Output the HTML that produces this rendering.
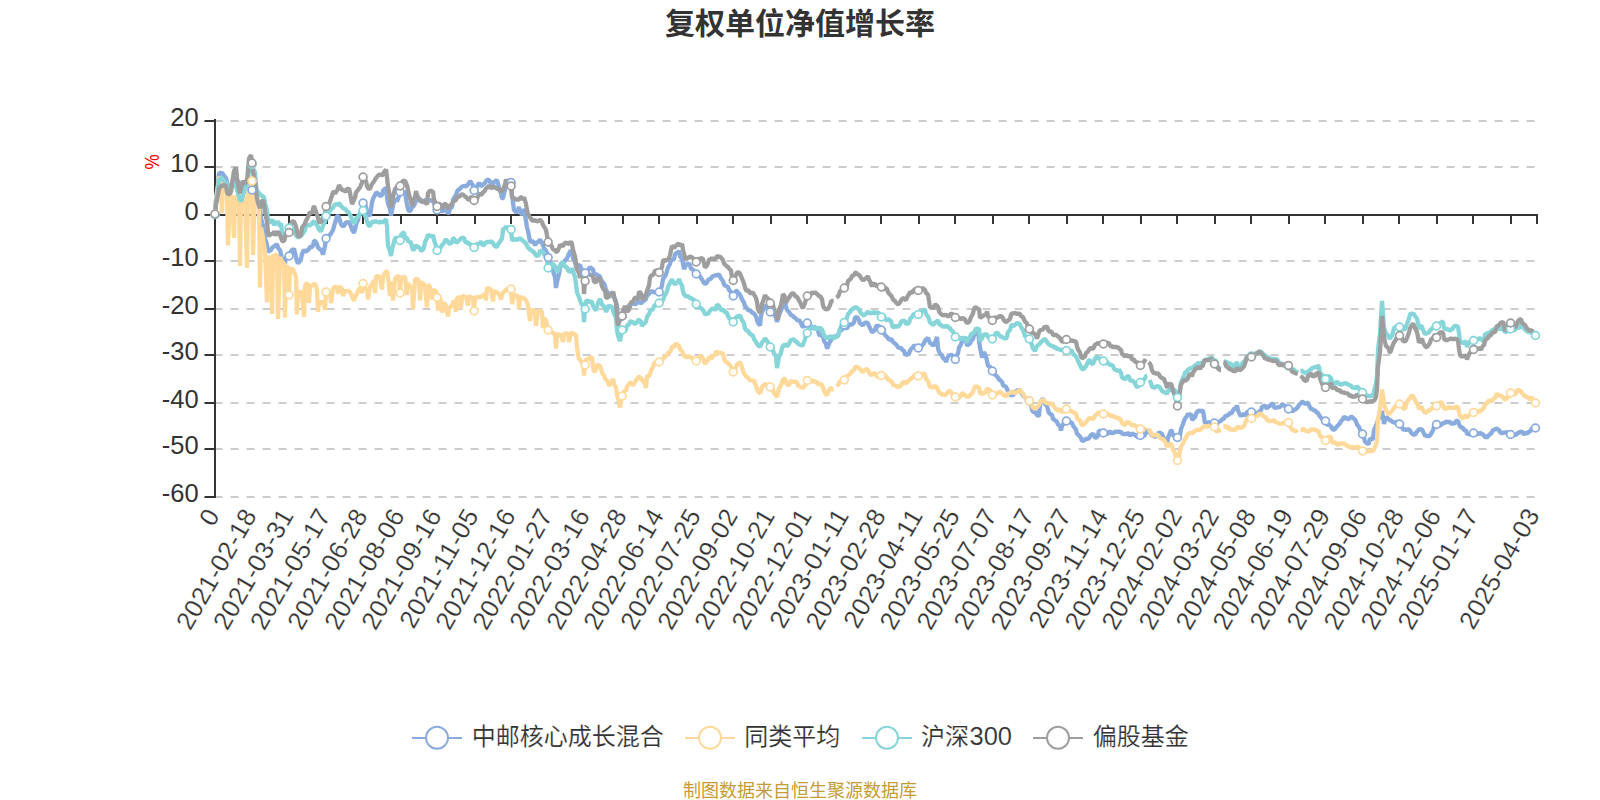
<!DOCTYPE html>
<html lang="zh-CN"><head><meta charset="utf-8"><title>复权单位净值增长率</title>
<style>html,body{margin:0;padding:0;background:#fff}body{width:1600px;height:800px;overflow:hidden}svg{display:block}text{font-family:'Liberation Sans','Noto Sans CJK SC',sans-serif}</style></head><body>
<svg width="1600" height="800" viewBox="0 0 1600 800">
<rect width="1600" height="800" fill="#fff"/>
<text x="800" y="34" text-anchor="middle" font-size="30" font-weight="bold" fill="#333">复权单位净值增长率</text>
<g stroke="#ccc" stroke-width="2" stroke-dasharray="8 8" fill="none">
<path d="M214.5 121H1537"/>
<path d="M214.5 167H1537"/>
<path d="M214.5 261H1537"/>
<path d="M214.5 309H1537"/>
<path d="M214.5 355H1537"/>
<path d="M214.5 403H1537"/>
<path d="M214.5 449H1537"/>
<path d="M214.5 497H1537"/>
</g>
<g stroke="#333" stroke-width="2" fill="none">
<path d="M215 119V498"/>
<path d="M204.5 121H215"/>
<path d="M204.5 167H215"/>
<path d="M204.5 215H215"/>
<path d="M204.5 261H215"/>
<path d="M204.5 309H215"/>
<path d="M204.5 355H215"/>
<path d="M204.5 403H215"/>
<path d="M204.5 449H215"/>
<path d="M204.5 497H215"/>
<path d="M214 215H1538"/>
<path d="M215 215V224"/>
<path d="M253 215V224"/>
<path d="M289 215V224"/>
<path d="M327 215V224"/>
<path d="M363 215V224"/>
<path d="M401 215V224"/>
<path d="M437 215V224"/>
<path d="M475 215V224"/>
<path d="M511 215V224"/>
<path d="M549 215V224"/>
<path d="M585 215V224"/>
<path d="M623 215V224"/>
<path d="M659 215V224"/>
<path d="M697 215V224"/>
<path d="M733 215V224"/>
<path d="M771 215V224"/>
<path d="M807 215V224"/>
<path d="M845 215V224"/>
<path d="M881 215V224"/>
<path d="M919 215V224"/>
<path d="M955 215V224"/>
<path d="M993 215V224"/>
<path d="M1029 215V224"/>
<path d="M1067 215V224"/>
<path d="M1103 215V224"/>
<path d="M1141 215V224"/>
<path d="M1177 215V224"/>
<path d="M1215 215V224"/>
<path d="M1251 215V224"/>
<path d="M1289 215V224"/>
<path d="M1325 215V224"/>
<path d="M1363 215V224"/>
<path d="M1399 215V224"/>
<path d="M1437 215V224"/>
<path d="M1473 215V224"/>
<path d="M1511 215V224"/>
<path d="M1537 215V224"/>
</g>
<g font-size="25.5" fill="#333" text-anchor="end">
<text x="198.6" y="125.6">20</text>
<text x="198.6" y="171.6">10</text>
<text x="198.6" y="219.6">0</text>
<text x="198.6" y="265.6">-10</text>
<text x="198.6" y="313.6">-20</text>
<text x="198.6" y="359.6">-30</text>
<text x="198.6" y="407.6">-40</text>
<text x="198.6" y="453.6">-50</text>
<text x="198.6" y="501.6">-60</text>
</g>
<text transform="translate(159.3 162) rotate(-90) scale(1.07 1.31)" font-size="16" fill="#f00" text-anchor="middle">%</text>
<g font-size="25.5" fill="#333" text-anchor="end" letter-spacing="0.4" stroke="#fff" stroke-width="0.2">
<text transform="translate(213.2 510.9) rotate(-60)" y="8.5">0</text>
<text transform="translate(250.2 510.9) rotate(-60)" y="8.5">2021-02-18</text>
<text transform="translate(287.2 510.9) rotate(-60)" y="8.5">2021-03-31</text>
<text transform="translate(324.2 510.9) rotate(-60)" y="8.5">2021-05-17</text>
<text transform="translate(361.3 510.9) rotate(-60)" y="8.5">2021-06-28</text>
<text transform="translate(398.3 510.9) rotate(-60)" y="8.5">2021-08-06</text>
<text transform="translate(435.3 510.9) rotate(-60)" y="8.5">2021-09-16</text>
<text transform="translate(472.3 510.9) rotate(-60)" y="8.5">2021-11-05</text>
<text transform="translate(509.3 510.9) rotate(-60)" y="8.5">2021-12-16</text>
<text transform="translate(546.3000000000001 510.9) rotate(-60)" y="8.5">2022-01-27</text>
<text transform="translate(583.4000000000001 510.9) rotate(-60)" y="8.5">2022-03-16</text>
<text transform="translate(620.4000000000001 510.9) rotate(-60)" y="8.5">2022-04-28</text>
<text transform="translate(657.4000000000001 510.9) rotate(-60)" y="8.5">2022-06-14</text>
<text transform="translate(694.4000000000001 510.9) rotate(-60)" y="8.5">2022-07-25</text>
<text transform="translate(731.4000000000001 510.9) rotate(-60)" y="8.5">2022-09-02</text>
<text transform="translate(768.4000000000001 510.9) rotate(-60)" y="8.5">2022-10-21</text>
<text transform="translate(805.5 510.9) rotate(-60)" y="8.5">2022-12-01</text>
<text transform="translate(842.5 510.9) rotate(-60)" y="8.5">2023-01-11</text>
<text transform="translate(879.5 510.9) rotate(-60)" y="8.5">2023-02-28</text>
<text transform="translate(916.5 510.9) rotate(-60)" y="8.5">2023-04-11</text>
<text transform="translate(953.5 510.9) rotate(-60)" y="8.5">2023-05-25</text>
<text transform="translate(990.5 510.9) rotate(-60)" y="8.5">2023-07-07</text>
<text transform="translate(1027.6000000000001 510.9) rotate(-60)" y="8.5">2023-08-17</text>
<text transform="translate(1064.6000000000001 510.9) rotate(-60)" y="8.5">2023-09-27</text>
<text transform="translate(1101.6000000000001 510.9) rotate(-60)" y="8.5">2023-11-14</text>
<text transform="translate(1138.6000000000001 510.9) rotate(-60)" y="8.5">2023-12-25</text>
<text transform="translate(1175.6000000000001 510.9) rotate(-60)" y="8.5">2024-02-02</text>
<text transform="translate(1212.6000000000001 510.9) rotate(-60)" y="8.5">2024-03-22</text>
<text transform="translate(1249.6000000000001 510.9) rotate(-60)" y="8.5">2024-05-08</text>
<text transform="translate(1286.7 510.9) rotate(-60)" y="8.5">2024-06-19</text>
<text transform="translate(1323.7 510.9) rotate(-60)" y="8.5">2024-07-29</text>
<text transform="translate(1360.7 510.9) rotate(-60)" y="8.5">2024-09-06</text>
<text transform="translate(1397.7 510.9) rotate(-60)" y="8.5">2024-10-28</text>
<text transform="translate(1434.7 510.9) rotate(-60)" y="8.5">2024-12-06</text>
<text transform="translate(1471.7 510.9) rotate(-60)" y="8.5">2025-01-17</text>
<text transform="translate(1533.2 510.3) rotate(-60)" y="8.5">2025-04-03</text>
</g>
<g fill="none" stroke="#8aabde" stroke-width="4.3" stroke-linejoin="bevel" stroke-linecap="butt">
<path d="M215.0 214.5 L216.0 199.5 L218.0 183.5 L219.0 173.5 L220.0 173.0 L222.0 173.0 L223.0 174.0 L224.0 176.0 L226.0 178.0 L227.0 182.0 L228.0 186.5 L230.0 188.5 L231.0 189.5 L232.0 184.0 L234.0 178.0 L235.0 175.0 L236.0 172.0 L237.0 180.0 L239.0 183.0 L240.0 187.0 L241.0 192.0 L243.0 189.0 L244.0 186.0 L245.0 183.0 L247.0 179.5 L248.0 182.5 L249.0 185.5 L251.0 187.5 L252.0 190.0 L253.0 192.5 L255.0 195.0 L256.0 197.5 L257.0 200.0 L259.0 205.0 L260.0 211.0 L261.0 218.0 L263.0 225.5 L264.0 231.5 L265.0 238.5 L267.0 245.0 L268.0 252.0 L269.0 251.0 L271.0 250.0 L272.0 248.0 L273.0 247.0 L274.0 246.5 L276.0 245.0 L277.0 244.0 L278.0 248.0 L280.0 250.0 L281.0 254.5 L282.0 259.0 L284.0 261.0 L285.0 263.5 L286.0 257.5 L288.0 256.5 L289.0 256.0 L290.0 253.0 L292.0 250.0 L293.0 250.0 L294.0 248.5 L296.0 257.5 L297.0 260.5 L298.0 263.5 L300.0 261.0 L301.0 259.0 L302.0 254.0 L304.0 250.0 L305.0 251.0 L306.0 251.5 L308.0 250.0 L309.0 249.0 L310.0 247.0 L312.0 247.0 L313.0 245.5 L314.0 241.0 L315.0 241.0 L317.0 244.0 L318.0 247.5 L319.0 248.5 L321.0 250.0 L322.0 251.5 L323.0 254.5 L325.0 246.0 L326.0 238.5 L327.0 237.5 L329.0 235.5 L330.0 235.0 L331.0 233.5 L333.0 230.0 L334.0 226.5 L335.0 223.0 L337.0 216.5 L338.0 216.0 L339.0 217.5 L341.0 224.0 L342.0 225.5 L343.0 226.5 L345.0 224.5 L346.0 222.0 L347.0 222.5 L349.0 222.0 L350.0 224.0 L351.0 226.5 L352.0 229.5 L354.0 233.0 L355.0 229.5 L356.0 224.5 L358.0 220.0 L359.0 216.0 L360.0 214.0 L362.0 212.0 L363.0 203.0 L364.0 203.0 L366.0 207.0 L367.0 211.0 L368.0 214.0 L370.0 216.0 L371.0 209.5 L372.0 202.0 L374.0 196.5 L375.0 195.5 L376.0 192.5 L378.0 193.5 L379.0 194.5 L380.0 196.0 L382.0 195.0 L383.0 191.0 L384.0 189.5 L386.0 188.0 L387.0 197.5 L388.0 203.5 L390.0 209.0 L391.0 215.5 L392.0 210.5 L393.0 205.0 L395.0 200.0 L396.0 199.0 L397.0 201.5 L399.0 196.0 L400.0 192.0 L401.0 193.0 L403.0 192.5 L404.0 191.5 L405.0 192.5 L407.0 204.5 L408.0 209.0 L409.0 211.5 L411.0 210.0 L412.0 206.5 L413.0 207.0 L415.0 203.5 L416.0 199.5 L417.0 199.5 L419.0 200.5 L420.0 199.5 L421.0 200.0 L423.0 202.0 L424.0 202.0 L425.0 200.5 L427.0 199.5 L428.0 201.5 L429.0 199.5 L430.0 200.5 L432.0 201.0 L433.0 199.0 L434.0 203.5 L436.0 206.5 L437.0 210.0 L438.0 210.0 L440.0 209.5 L441.0 210.5 L442.0 212.0 L444.0 209.5 L445.0 207.5 L446.0 210.0 L448.0 213.5 L449.0 212.5 L450.0 208.5 L452.0 207.0 L453.0 200.0 L454.0 198.0 L456.0 195.0 L457.0 192.0 L458.0 190.0 L460.0 189.0 L461.0 187.5 L462.0 186.5 L464.0 186.0 L465.0 186.0 L466.0 186.5 L468.0 184.5 L469.0 183.0 L470.0 181.0 L471.0 182.5 L473.0 185.5 L474.0 190.5 L475.0 188.0 L477.0 187.0 L478.0 184.5 L479.0 183.0 L481.0 186.0 L482.0 185.5 L483.0 184.5 L485.0 183.0 L486.0 181.0 L487.0 180.0 L489.0 180.0 L490.0 181.5 L491.0 184.5 L493.0 183.5 L494.0 182.0 L495.0 181.5 L497.0 180.0 L498.0 183.5 L499.0 187.5 L501.0 193.5 L502.0 198.5 L503.0 198.0 L505.0 189.5 L506.0 186.5 L507.0 181.0 L508.0 181.0 L510.0 181.0 L511.0 182.5 L512.0 194.5 L514.0 210.5 L515.0 210.5 L516.0 213.0 L518.0 209.5 L519.0 207.0 L520.0 211.0 L522.0 215.0 L523.0 210.5 L524.0 210.5 L526.0 220.5 L527.0 227.5 L528.0 231.0 L530.0 241.5 L531.0 241.5 L532.0 241.0 L534.0 242.5 L535.0 245.5 L536.0 243.0 L538.0 242.0 L539.0 241.0 L540.0 239.5 L542.0 243.0 L543.0 245.0 L544.0 248.5 L546.0 250.5 L547.0 253.0 L548.0 257.5 L549.0 261.5 L551.0 264.0 L552.0 267.0 L553.0 271.0 L555.0 277.0 L556.0 288.0 L557.0 282.0 L559.0 274.0 L560.0 267.5 L561.0 265.5 L563.0 263.0 L564.0 262.0 L565.0 260.5 L567.0 258.5 L568.0 256.0 L569.0 253.5 L571.0 250.5 L572.0 252.5 L573.0 258.5 L575.0 262.0 L576.0 266.0 L577.0 268.0 L579.0 265.5 L580.0 265.0 L581.0 268.0 L583.0 270.5 L584.0 273.5 L585.0 273.0 L586.0 272.5 L588.0 270.0 L589.0 269.0 L590.0 267.0 L592.0 269.0 L593.0 269.0 L594.0 274.5 L596.0 274.0 L597.0 275.0 L598.0 275.5 L600.0 276.5 L601.0 280.0 L602.0 281.0 L604.0 283.5 L605.0 286.0 L606.0 290.0 L608.0 293.0 L609.0 295.5 L610.0 296.0 L612.0 295.0 L613.0 291.5 L614.0 296.5 L616.0 302.0 L617.0 307.5 L618.0 318.0 L620.0 320.0 L621.0 318.5 L622.0 316.0 L623.0 314.5 L625.0 311.0 L626.0 308.0 L627.0 307.5 L629.0 305.5 L630.0 304.5 L631.0 304.0 L633.0 303.0 L634.0 303.5 L635.0 304.5 L637.0 303.0 L638.0 301.0 L639.0 302.0 L641.0 303.0 L642.0 302.5 L643.0 301.0 L645.0 300.0 L646.0 299.0 L647.0 295.5 L649.0 294.0 L650.0 292.0 L651.0 291.5 L653.0 291.5 L654.0 293.0 L655.0 292.0 L657.0 292.5 L658.0 292.0 L659.0 292.0 L661.0 289.0 L662.0 285.5 L663.0 279.0 L664.0 277.5 L666.0 274.5 L667.0 271.0 L668.0 267.5 L670.0 264.0 L671.0 260.0 L672.0 260.0 L674.0 259.0 L675.0 254.5 L676.0 253.0 L678.0 252.5 L679.0 250.5 L680.0 256.5 L682.0 258.5 L683.0 263.5 L684.0 269.0 L686.0 265.0 L687.0 264.0 L688.0 263.5 L690.0 265.0 L691.0 269.0 L692.0 269.0 L694.0 271.0 L695.0 272.5 L696.0 274.0 L698.0 274.5 L699.0 275.5 L700.0 276.5 L701.0 278.0 L703.0 281.0 L704.0 283.0 L705.0 284.0 L707.0 282.5 L708.0 280.0 L709.0 279.5 L711.0 278.5 L712.0 277.0 L713.0 276.0 L715.0 275.5 L716.0 275.5 L717.0 275.0 L719.0 274.5 L720.0 276.5 L721.0 278.5 L723.0 281.0 L724.0 284.5 L725.0 285.5 L727.0 286.5 L728.0 287.0 L729.0 290.0 L731.0 292.0 L732.0 295.0 L733.0 296.0 L735.0 293.0 L736.0 291.0 L737.0 291.0 L739.0 293.5 L740.0 295.0 L741.0 296.5 L742.0 299.5 L744.0 302.5 L745.0 306.5 L746.0 307.0 L748.0 310.0 L749.0 310.5 L750.0 310.0 L752.0 312.5 L753.0 313.0 L754.0 313.5 L756.0 316.5 L757.0 320.0 L758.0 323.0 L760.0 325.5 L761.0 316.0 L762.0 311.5 L764.0 308.5 L765.0 306.5 L766.0 305.5 L768.0 308.5 L769.0 310.5 L770.0 312.0 L772.0 314.0 L773.0 312.0 L774.0 314.5 L776.0 317.5 L777.0 322.0 L778.0 318.5 L779.0 315.0 L781.0 310.5 L782.0 307.5 L783.0 305.0 L785.0 302.5 L786.0 307.0 L787.0 310.0 L789.0 312.0 L790.0 313.5 L791.0 315.0 L793.0 316.0 L794.0 317.5 L795.0 317.5 L797.0 320.0 L798.0 320.5 L799.0 320.0 L801.0 323.0 L802.0 326.0 L803.0 326.5 L805.0 326.0 L806.0 324.5 L807.0 323.0 L809.0 326.0 L810.0 325.0 L811.0 327.0 L813.0 328.5 L814.0 327.0 L815.0 327.0 L817.0 329.5 L818.0 330.5 L819.0 334.5 L820.0 335.5 L822.0 335.0 L823.0 336.0 L824.0 341.0 L826.0 344.0 L827.0 348.5 L828.0 346.5 L830.0 341.5 L831.0 340.5 L832.0 338.0 L834.0 336.5 L835.0 336.5 L836.0 337.0 L838.0 335.5 L839.0 333.0 L840.0 330.0 L842.0 330.0 L843.0 327.5 L844.0 325.0 L846.0 328.0 L847.0 328.5 L848.0 326.5 L850.0 323.5 L851.0 324.5 L852.0 324.5 L854.0 322.5 L855.0 317.5 L856.0 317.5 L857.0 317.0 L859.0 320.0 L860.0 324.0 L861.0 323.5 L863.0 326.0 L864.0 322.5 L865.0 323.0 L867.0 322.5 L868.0 323.5 L869.0 326.0 L871.0 330.0 L872.0 332.5 L873.0 331.5 L875.0 330.0 L876.0 326.5 L877.0 326.0 L879.0 326.0 L880.0 327.5 L881.0 330.0 L883.0 331.5 L884.0 333.0 L885.0 335.0 L887.0 337.0 L888.0 338.0 L889.0 339.5 L891.0 339.5 L892.0 340.0 L893.0 342.0 L895.0 343.5 L896.0 344.5 L897.0 345.5 L898.0 347.5 L900.0 348.0 L901.0 348.0 L902.0 349.5 L904.0 351.0 L905.0 353.5 L906.0 355.0 L908.0 354.5 L909.0 353.5 L910.0 350.5 L912.0 348.0 L913.0 347.0 L914.0 345.5 L916.0 346.5 L917.0 347.5 L918.0 348.0 L920.0 348.0 L921.0 347.0 L922.0 345.5 L924.0 343.5 L925.0 340.5 L926.0 339.5 L928.0 338.0 L929.0 340.5 L930.0 343.0 L932.0 344.0 L933.0 346.0 L934.0 344.0 L935.0 343.0 L937.0 337.0 L938.0 348.5 L939.0 351.5 L941.0 355.0 L942.0 355.0 L943.0 358.0 L945.0 359.5 L946.0 362.0 L947.0 359.0 L949.0 354.5 L950.0 355.5 L951.0 354.5 L953.0 356.0 L954.0 358.5 L955.0 359.5 L957.0 355.0 L958.0 353.5 L959.0 347.5 L961.0 344.5 L962.0 341.0 L963.0 340.5 L965.0 337.0 L966.0 341.5 L967.0 345.5 L969.0 344.0 L970.0 343.5 L971.0 341.0 L973.0 339.0 L974.0 335.0 L975.0 334.0 L976.0 332.0 L978.0 329.0 L979.0 340.5 L980.0 347.5 L982.0 357.5 L983.0 354.5 L984.0 352.0 L986.0 356.5 L987.0 361.0 L988.0 366.0 L990.0 366.5 L991.0 369.0 L992.0 371.0 L994.0 371.5 L995.0 374.5 L996.0 375.5 L998.0 377.5 L999.0 379.5 L1000.0 380.0 L1002.0 382.0 L1003.0 385.0 L1004.0 386.0 L1006.0 386.5 L1007.0 389.0 L1008.0 391.5 L1010.0 395.5 L1011.0 395.0 L1012.0 395.0 L1013.0 395.0 L1015.0 393.0 L1016.0 391.5 L1017.0 390.5 L1019.0 390.5 L1020.0 389.5 L1021.0 392.0 L1023.0 395.0 L1024.0 396.5 L1025.0 397.5 L1027.0 399.0 L1028.0 400.5 L1029.0 401.0 L1031.0 405.0 L1032.0 409.5 L1033.0 412.0 L1035.0 412.0 L1036.0 413.5 L1037.0 415.0 L1039.0 416.0 L1040.0 404.0 L1041.0 401.0 L1043.0 398.5 L1044.0 401.5 L1045.0 404.0 L1047.0 406.0 L1048.0 410.0 L1049.0 413.0 L1051.0 414.5 L1052.0 415.0 L1053.0 419.0 L1054.0 419.5 L1056.0 421.0 L1057.0 422.0 L1058.0 424.5 L1060.0 426.0 L1061.0 430.5 L1062.0 426.0 L1064.0 423.0 L1065.0 422.0 L1066.0 421.0 L1068.0 420.5 L1069.0 421.5 L1070.0 422.0 L1072.0 423.0 L1073.0 425.5 L1074.0 427.0 L1076.0 429.5 L1077.0 434.0 L1078.0 434.5 L1080.0 436.5 L1081.0 438.0 L1082.0 441.0 L1084.0 440.5 L1085.0 439.5 L1086.0 438.5 L1088.0 439.0 L1089.0 438.0 L1090.0 436.5 L1091.0 435.0 L1093.0 434.0 L1094.0 435.0 L1095.0 438.0 L1097.0 437.0 L1098.0 435.5 L1099.0 430.5 L1101.0 431.5 L1102.0 431.0 L1103.0 433.0 L1105.0 433.0 L1106.0 433.5 L1107.0 434.5 L1109.0 432.0 L1110.0 431.5 L1111.0 433.0 L1113.0 433.0 L1114.0 432.5 L1115.0 431.5 L1117.0 432.0 L1118.0 431.0 L1119.0 432.0 L1121.0 432.0 L1122.0 433.5 L1123.0 434.0 L1125.0 434.0 L1126.0 434.0 L1127.0 434.0 L1129.0 433.0 L1130.0 436.0 L1131.0 434.5 L1132.0 433.5 L1134.0 434.5 L1135.0 435.0 L1136.0 436.0 L1138.0 437.0 L1139.0 436.5 L1140.0 435.5 L1142.0 435.5 L1143.0 435.0 L1144.0 436.5 L1146.0 433.0 L1147.0 432.0 L1148.0 430.0 L1150.0 432.0 L1151.0 434.0 L1152.0 435.5 L1154.0 436.0 L1155.0 436.5 L1156.0 436.5 L1158.0 434.5 L1159.0 432.0 L1160.0 433.0 L1162.0 434.0 L1163.0 436.5 L1164.0 439.0 L1166.0 442.0 L1167.0 445.5 L1168.0 437.5 L1169.0 435.5 L1171.0 430.0 L1172.0 431.5 L1173.0 435.0 L1175.0 437.0 L1176.0 439.0 L1177.0 437.5 L1179.0 437.5 L1180.0 435.5 L1181.0 429.0 L1183.0 424.0 L1184.0 421.0 L1185.0 418.5 L1187.0 416.0 L1188.0 413.5 L1189.0 415.0 L1191.0 414.0 L1192.0 420.0 L1193.0 419.0 L1195.0 417.0 L1196.0 414.0 L1197.0 412.0 L1199.0 410.5 L1200.0 411.0 L1201.0 411.0 L1203.0 410.5 L1204.0 417.0 L1205.0 423.5 L1206.0 424.0 L1208.0 422.5 L1209.0 422.0 L1210.0 423.0 L1212.0 423.5 L1213.0 423.5 L1214.0 423.0 L1216.0 424.0 L1217.0 424.0 L1218.0 422.0 L1220.0 421.5 L1221.0 420.5 L1222.0 419.5 L1224.0 418.5 L1225.0 416.5 L1226.0 416.0 L1228.0 415.0 L1229.0 414.5 L1230.0 413.0 L1232.0 413.0 L1233.0 410.5 L1234.0 409.0 L1236.0 408.0 L1237.0 405.5 L1238.0 410.5 L1240.0 415.0 L1241.0 416.0 L1242.0 415.0 L1244.0 414.0 L1245.0 415.5 L1246.0 414.5 L1247.0 412.0 L1249.0 412.0 L1250.0 411.0 L1251.0 412.0 L1253.0 411.0 L1254.0 411.5 L1255.0 414.5 L1257.0 413.5 L1258.0 412.5 L1259.0 412.0 L1261.0 410.0 L1262.0 407.0 L1263.0 406.5 L1265.0 405.5 L1266.0 407.5 L1267.0 408.5 L1269.0 406.0 L1270.0 406.0 L1271.0 404.5 L1273.0 403.5 L1274.0 407.0 L1275.0 408.0 L1277.0 407.5 L1278.0 407.0 L1279.0 407.5 L1281.0 406.0 L1282.0 404.5 L1283.0 404.5 L1284.0 405.5 L1286.0 406.5 L1287.0 408.5 L1288.0 409.0 L1290.0 408.5 L1291.0 409.0 L1292.0 411.5 L1294.0 410.0 L1295.0 409.5 L1296.0 409.0 L1298.0 407.0 L1299.0 405.0 L1300.0 404.0 L1302.0 402.0 L1303.0 402.0 L1304.0 403.0 L1306.0 404.0 L1307.0 403.0 L1308.0 403.0 L1310.0 407.5 L1311.0 409.0 L1312.0 409.0 L1314.0 410.5 L1315.0 410.0 L1316.0 412.0 L1318.0 413.0 L1319.0 415.0 L1320.0 416.5 L1322.0 419.0 L1323.0 419.5 L1324.0 421.0 L1325.0 421.0 L1327.0 424.0 L1328.0 425.5 L1329.0 424.5 L1331.0 426.5 L1332.0 428.0 L1333.0 430.0 L1335.0 429.0 L1336.0 427.5 L1337.0 426.5 L1339.0 424.0 L1340.0 423.5 L1341.0 421.0 L1343.0 419.5 L1344.0 416.5 L1345.0 417.5 L1347.0 418.5 L1348.0 419.0 L1349.0 419.0 L1351.0 416.5 L1352.0 417.0 L1353.0 418.0 L1355.0 419.5 L1356.0 421.5 L1357.0 424.5 L1359.0 427.0 L1360.0 429.5 L1361.0 432.5 L1362.0 434.0 L1364.0 438.0 L1365.0 441.5 L1366.0 442.5 L1368.0 444.0 L1369.0 443.0 L1370.0 438.5 L1372.0 439.5 L1373.0 438.5 L1374.0 430.0 L1376.0 425.5 L1377.0 423.5 L1378.0 419.5 L1380.0 415.5 L1381.0 413.0 L1382.0 411.0 L1384.0 424.0 L1385.0 420.5 L1386.0 417.0 L1388.0 418.5 L1389.0 419.5 L1390.0 420.0 L1392.0 421.5 L1393.0 422.0 L1394.0 422.5 L1396.0 422.5 L1397.0 422.0 L1398.0 421.5 L1400.0 424.0 L1401.0 425.5 L1402.0 427.0 L1403.0 429.5 L1405.0 429.5 L1406.0 430.0 L1407.0 429.5 L1409.0 429.5 L1410.0 430.5 L1411.0 432.5 L1413.0 434.5 L1414.0 434.5 L1415.0 434.5 L1417.0 431.5 L1418.0 431.0 L1419.0 429.0 L1421.0 429.5 L1422.0 429.5 L1423.0 431.5 L1425.0 436.0 L1426.0 435.5 L1427.0 436.0 L1429.0 436.0 L1430.0 435.5 L1431.0 434.0 L1433.0 430.5 L1434.0 426.5 L1435.0 424.5 L1437.0 424.5 L1438.0 425.0 L1439.0 425.5 L1440.0 425.5 L1442.0 424.0 L1443.0 422.5 L1444.0 423.5 L1446.0 421.5 L1447.0 422.0 L1448.0 422.0 L1450.0 422.0 L1451.0 423.5 L1452.0 423.5 L1454.0 423.5 L1455.0 423.0 L1456.0 421.0 L1458.0 421.0 L1459.0 424.0 L1460.0 426.5 L1462.0 427.5 L1463.0 428.0 L1464.0 430.0 L1466.0 430.5 L1467.0 433.5 L1468.0 434.0 L1470.0 434.5 L1471.0 434.5 L1472.0 434.0 L1474.0 433.0 L1475.0 433.5 L1476.0 434.5 L1478.0 434.0 L1479.0 433.5 L1480.0 433.0 L1481.0 433.5 L1483.0 434.5 L1484.0 435.5 L1485.0 437.0 L1487.0 437.5 L1488.0 436.0 L1489.0 435.0 L1491.0 433.5 L1492.0 432.0 L1493.0 430.0 L1495.0 429.5 L1496.0 428.5 L1497.0 429.0 L1499.0 430.0 L1500.0 432.0 L1501.0 433.0 L1503.0 433.0 L1504.0 432.0 L1505.0 433.0 L1507.0 432.0 L1508.0 433.0 L1509.0 434.0 L1511.0 434.5 L1512.0 435.5 L1513.0 435.5 L1515.0 435.0 L1516.0 434.5 L1517.0 434.0 L1518.0 433.0 L1520.0 432.0 L1521.0 432.0 L1522.0 431.5 L1524.0 434.5 L1525.0 433.5 L1526.0 433.0 L1528.0 433.0 L1529.0 431.5 L1530.0 431.5 L1532.0 428.5 L1533.0 428.0 L1534.4 428.0"/>
</g>
<g fill="none" stroke="#ffd99a" stroke-width="4.3" stroke-linejoin="bevel" stroke-linecap="butt">
<path d="M215.0 214.0 L216.0 198.0 L218.0 186.0 L219.0 178.5 L220.0 177.0 L222.0 213.0 L223.0 180.0 L224.0 182.5 L226.0 187.5 L227.0 192.0 L228.0 245.5 L230.0 196.0 L231.0 196.0 L232.0 196.5 L234.0 238.0 L235.0 196.5 L236.0 197.0 L237.0 197.5 L239.0 197.5 L240.0 266.0 L241.0 197.5 L243.0 197.5 L244.0 198.0 L245.0 198.0 L247.0 268.0 L248.0 192.5 L249.0 189.0 L251.0 185.0 L252.0 181.0 L253.0 255.0 L255.0 190.5 L256.0 194.0 L257.0 197.0 L259.0 203.5 L260.0 287.5 L261.0 227.5 L263.0 238.0 L264.0 244.5 L265.0 251.0 L267.0 302.5 L268.0 256.5 L269.0 257.5 L271.0 258.0 L272.0 314.0 L273.0 256.0 L274.0 255.5 L276.0 255.0 L277.0 254.5 L278.0 319.0 L280.0 257.0 L281.0 259.5 L282.0 261.5 L284.0 264.0 L285.0 317.5 L286.0 266.5 L288.0 267.0 L289.0 295.0 L290.0 268.5 L292.0 269.0 L293.0 269.5 L294.0 271.5 L296.0 277.0 L297.0 314.5 L298.0 292.0 L300.0 292.0 L301.0 292.0 L302.0 292.0 L304.0 317.0 L305.0 285.5 L306.0 284.0 L308.0 284.0 L309.0 303.0 L310.0 287.0 L312.0 285.5 L313.0 284.5 L314.0 284.5 L315.0 283.5 L317.0 290.0 L318.0 312.0 L319.0 301.0 L321.0 303.5 L322.0 302.5 L323.0 301.0 L325.0 310.0 L326.0 292.0 L327.0 294.0 L329.0 294.0 L330.0 293.0 L331.0 303.0 L333.0 288.5 L334.0 287.5 L335.0 287.0 L337.0 286.5 L338.0 294.0 L339.0 287.0 L341.0 287.5 L342.0 289.0 L343.0 296.0 L345.0 291.0 L346.0 291.0 L347.0 291.0 L349.0 291.0 L350.0 292.5 L351.0 294.0 L352.0 296.0 L354.0 301.0 L355.0 297.0 L356.0 295.5 L358.0 291.0 L359.0 289.0 L360.0 288.0 L362.0 293.0 L363.0 283.5 L364.0 287.0 L366.0 289.0 L367.0 289.0 L368.0 299.5 L370.0 287.0 L371.0 285.5 L372.0 284.5 L374.0 280.5 L375.0 293.0 L376.0 276.5 L378.0 276.0 L379.0 277.0 L380.0 277.5 L382.0 289.5 L383.0 276.5 L384.0 274.0 L386.0 271.5 L387.0 271.5 L388.0 276.5 L390.0 296.0 L391.0 283.5 L392.0 283.5 L393.0 300.5 L395.0 279.0 L396.0 277.5 L397.0 276.5 L399.0 276.0 L400.0 293.0 L401.0 277.0 L403.0 278.0 L404.0 277.0 L405.0 277.0 L407.0 295.0 L408.0 283.0 L409.0 285.5 L411.0 287.0 L412.0 286.5 L413.0 309.5 L415.0 279.5 L416.0 279.0 L417.0 279.0 L419.0 281.0 L420.0 300.5 L421.0 282.5 L423.0 283.0 L424.0 284.5 L425.0 286.0 L427.0 307.5 L428.0 285.0 L429.0 285.5 L430.0 287.0 L432.0 299.5 L433.0 289.5 L434.0 290.5 L436.0 291.0 L437.0 297.5 L438.0 310.5 L440.0 299.0 L441.0 300.5 L442.0 312.5 L444.0 304.0 L445.0 303.5 L446.0 306.0 L448.0 316.5 L449.0 308.0 L450.0 307.0 L452.0 305.5 L453.0 303.5 L454.0 300.5 L456.0 311.5 L457.0 298.5 L458.0 297.5 L460.0 297.5 L461.0 308.5 L462.0 296.5 L464.0 296.0 L465.0 297.0 L466.0 297.0 L468.0 305.5 L469.0 296.5 L470.0 296.0 L471.0 297.5 L473.0 298.0 L474.0 311.0 L475.0 297.5 L477.0 297.0 L478.0 297.0 L479.0 297.5 L481.0 297.0 L482.0 296.0 L483.0 295.5 L485.0 293.5 L486.0 300.5 L487.0 288.0 L489.0 288.5 L490.0 289.0 L491.0 289.5 L493.0 301.5 L494.0 290.5 L495.0 291.5 L497.0 292.5 L498.0 293.5 L499.0 294.0 L501.0 299.5 L502.0 295.0 L503.0 292.5 L505.0 291.0 L506.0 289.5 L507.0 289.5 L508.0 288.5 L510.0 288.5 L511.0 289.0 L512.0 304.0 L514.0 294.5 L515.0 295.0 L516.0 296.0 L518.0 296.0 L519.0 309.0 L520.0 297.0 L522.0 297.5 L523.0 298.0 L524.0 298.5 L526.0 300.0 L527.0 302.5 L528.0 306.0 L530.0 321.0 L531.0 309.5 L532.0 310.0 L534.0 311.0 L535.0 311.0 L536.0 326.0 L538.0 310.0 L539.0 311.0 L540.0 311.0 L542.0 312.0 L543.0 328.0 L544.0 318.0 L546.0 320.5 L547.0 324.5 L548.0 330.0 L549.0 331.0 L551.0 331.5 L552.0 332.5 L553.0 333.0 L555.0 334.0 L556.0 348.5 L557.0 334.0 L559.0 335.0 L560.0 335.0 L561.0 334.0 L563.0 342.0 L564.0 334.0 L565.0 333.5 L567.0 333.5 L568.0 333.0 L569.0 342.0 L571.0 332.5 L572.0 333.0 L573.0 333.5 L575.0 334.5 L576.0 335.0 L577.0 347.5 L579.0 360.0 L580.0 359.0 L581.0 361.5 L583.0 363.5 L584.0 375.5 L585.0 365.0 L586.0 359.5 L588.0 359.0 L589.0 359.0 L590.0 358.0 L592.0 357.0 L593.0 366.5 L594.0 372.0 L596.0 369.0 L597.0 365.0 L598.0 365.0 L600.0 366.0 L601.0 368.5 L602.0 373.0 L604.0 375.5 L605.0 378.5 L606.0 379.5 L608.0 382.0 L609.0 386.0 L610.0 384.0 L612.0 381.0 L613.0 379.0 L614.0 384.0 L616.0 387.5 L617.0 395.0 L618.0 398.0 L620.0 407.5 L621.0 400.5 L622.0 396.0 L623.0 393.5 L625.0 390.5 L626.0 391.0 L627.0 386.5 L629.0 384.0 L630.0 382.5 L631.0 383.0 L633.0 385.5 L634.0 383.5 L635.0 382.0 L637.0 379.0 L638.0 378.0 L639.0 376.0 L641.0 378.5 L642.0 379.5 L643.0 381.0 L645.0 384.0 L646.0 388.0 L647.0 376.0 L649.0 376.0 L650.0 374.0 L651.0 370.5 L653.0 367.0 L654.0 363.0 L655.0 363.0 L657.0 362.5 L658.0 361.0 L659.0 362.0 L661.0 360.0 L662.0 360.5 L663.0 359.0 L664.0 357.5 L666.0 356.0 L667.0 355.0 L668.0 353.0 L670.0 352.0 L671.0 350.0 L672.0 346.5 L674.0 346.5 L675.0 346.5 L676.0 343.0 L678.0 345.5 L679.0 346.0 L680.0 349.0 L682.0 351.5 L683.0 353.0 L684.0 356.0 L686.0 357.0 L687.0 357.5 L688.0 356.0 L690.0 357.0 L691.0 357.5 L692.0 358.0 L694.0 359.0 L695.0 359.5 L696.0 361.0 L698.0 358.5 L699.0 358.5 L700.0 356.0 L701.0 356.0 L703.0 358.0 L704.0 361.5 L705.0 364.0 L707.0 361.0 L708.0 360.0 L709.0 357.0 L711.0 358.0 L712.0 358.0 L713.0 356.0 L715.0 354.5 L716.0 351.5 L717.0 352.0 L719.0 353.5 L720.0 352.5 L721.0 353.0 L723.0 353.5 L724.0 358.5 L725.0 361.0 L727.0 362.0 L728.0 363.5 L729.0 364.0 L731.0 366.5 L732.0 369.0 L733.0 372.0 L735.0 369.0 L736.0 367.0 L737.0 364.5 L739.0 363.0 L740.0 362.0 L741.0 364.5 L742.0 367.5 L744.0 373.5 L745.0 374.5 L746.0 376.5 L748.0 377.5 L749.0 379.5 L750.0 380.0 L752.0 380.5 L753.0 381.0 L754.0 380.5 L756.0 386.0 L757.0 389.0 L758.0 391.5 L760.0 393.5 L761.0 391.0 L762.0 387.0 L764.0 385.0 L765.0 384.0 L766.0 384.5 L768.0 386.5 L769.0 386.5 L770.0 387.0 L772.0 386.5 L773.0 390.0 L774.0 393.0 L776.0 395.5 L777.0 397.0 L778.0 393.0 L779.0 388.5 L781.0 385.5 L782.0 382.5 L783.0 379.5 L785.0 378.5 L786.0 383.0 L787.0 384.0 L789.0 385.5 L790.0 382.5 L791.0 381.0 L793.0 381.5 L794.0 382.5 L795.0 381.5 L797.0 382.5 L798.0 385.5 L799.0 386.0 L801.0 387.5 L802.0 387.0 L803.0 388.5 L805.0 385.0 L806.0 385.0 L807.0 380.5 L809.0 381.5 L810.0 382.0 L811.0 381.0 L813.0 381.0 L814.0 381.0 L815.0 382.0 L817.0 382.0 L818.0 384.0 L819.0 384.5 L820.0 383.5 L822.0 385.0 L823.0 387.5 L824.0 390.5 L826.0 394.5 L827.0 395.0 L828.0 392.5 L830.0 388.0 L831.0 388.5 L832.0 389.5 L833.7 389.0"/>
<path d="M836.3 386.0 L838.0 385.0 L839.0 383.5 L840.0 381.0 L842.0 381.5 L843.0 381.0 L844.0 380.0 L846.0 378.0 L847.0 376.0 L848.0 375.5 L850.0 374.0 L851.0 372.5 L852.0 371.0 L854.0 370.5 L855.0 367.0 L856.0 367.0 L857.0 367.0 L859.0 368.0 L860.0 369.0 L861.0 370.5 L863.0 372.0 L864.0 370.5 L865.0 370.0 L867.0 369.0 L868.0 370.5 L869.0 372.5 L871.0 375.5 L872.0 374.5 L873.0 373.5 L875.0 373.5 L876.0 374.5 L877.0 376.5 L879.0 376.5 L880.0 375.5 L881.0 375.5 L883.0 374.5 L884.0 375.0 L885.0 375.5 L887.0 377.5 L888.0 379.5 L889.0 380.0 L891.0 381.5 L892.0 381.5 L893.0 385.0 L895.0 385.5 L896.0 386.0 L897.0 386.5 L898.0 387.0 L900.0 386.5 L901.0 385.0 L902.0 383.5 L904.0 381.5 L905.0 383.0 L906.0 383.0 L908.0 381.5 L909.0 380.5 L910.0 379.5 L912.0 378.0 L913.0 377.0 L914.0 376.0 L916.0 374.5 L917.0 375.5 L918.0 376.0 L920.0 377.0 L921.0 376.0 L922.0 374.5 L924.0 373.5 L925.0 374.5 L926.0 379.0 L928.0 381.0 L929.0 384.0 L930.0 387.0 L932.0 387.5 L933.0 387.5 L934.0 386.5 L935.0 386.0 L937.0 387.5 L938.0 390.0 L939.0 392.5 L941.0 393.5 L942.0 395.0 L943.0 394.5 L945.0 395.0 L946.0 394.5 L947.0 393.0 L949.0 391.0 L950.0 391.0 L951.0 392.0 L953.0 396.0 L954.0 396.0 L955.0 397.0 L957.0 398.5 L958.0 398.5 L959.0 397.5 L961.0 396.0 L962.0 393.5 L963.0 393.5 L965.0 395.0 L966.0 396.5 L967.0 396.5 L969.0 396.5 L970.0 395.0 L971.0 394.5 L973.0 392.0 L974.0 388.5 L975.0 387.0 L976.0 386.0 L978.0 387.5 L979.0 387.5 L980.0 393.5 L982.0 393.5 L983.0 394.0 L984.0 392.5 L986.0 392.5 L987.0 388.0 L988.0 389.5 L990.0 390.0 L991.0 393.0 L992.0 395.0 L994.0 394.0 L995.0 393.5 L996.0 393.5 L998.0 393.5 L999.0 392.0 L1000.0 392.0 L1002.0 393.5 L1003.0 394.0 L1004.0 395.5 L1006.0 396.0 L1007.0 396.0 L1008.0 393.5 L1010.0 393.0 L1011.0 392.5 L1012.0 391.0 L1013.0 392.5 L1015.0 393.0 L1016.0 392.5 L1017.0 392.0 L1019.0 391.0 L1020.0 389.5 L1021.0 391.5 L1023.0 393.5 L1024.0 395.0 L1025.0 397.5 L1027.0 399.0 L1028.0 400.0 L1029.0 401.0 L1031.0 404.5 L1032.0 406.0 L1033.0 407.5 L1035.0 409.0 L1036.0 407.0 L1037.0 407.5 L1039.0 405.0 L1040.0 402.0 L1041.0 401.5 L1043.0 399.5 L1044.0 400.5 L1045.0 402.0 L1047.0 403.0 L1048.0 403.0 L1049.0 403.5 L1051.0 403.5 L1052.0 404.5 L1053.0 405.0 L1054.0 406.5 L1056.0 409.0 L1057.0 410.0 L1058.0 410.5 L1060.0 409.0 L1061.0 411.5 L1062.0 411.5 L1064.0 411.5 L1065.0 409.5 L1066.0 409.0 L1068.0 409.0 L1069.0 409.5 L1070.0 411.0 L1072.0 411.5 L1073.0 412.0 L1074.0 413.0 L1076.0 413.5 L1077.0 417.5 L1078.0 419.5 L1080.0 420.0 L1081.0 423.5 L1082.0 425.5 L1084.0 423.5 L1085.0 424.0 L1086.0 422.0 L1088.0 419.5 L1089.0 418.5 L1090.0 418.0 L1091.0 418.5 L1093.0 419.0 L1094.0 418.0 L1095.0 415.0 L1097.0 414.5 L1098.0 412.5 L1099.0 413.0 L1101.0 412.5 L1102.0 415.0 L1103.0 414.0 L1105.0 416.0 L1106.0 413.5 L1107.0 414.0 L1109.0 414.5 L1110.0 415.5 L1111.0 416.0 L1113.0 415.5 L1114.0 417.0 L1115.0 417.0 L1117.0 418.0 L1118.0 418.0 L1119.0 418.0 L1121.0 420.0 L1122.0 423.0 L1123.0 424.0 L1125.0 425.0 L1126.0 423.5 L1127.0 422.0 L1129.0 422.5 L1130.0 423.5 L1131.0 424.5 L1132.0 425.5 L1134.0 425.0 L1135.0 425.5 L1136.0 426.5 L1138.0 426.5 L1139.0 430.5 L1140.0 429.0 L1142.0 428.5 L1143.0 428.0 L1144.0 429.0 L1145.7 427.0"/>
<path d="M1148.3 429.0 L1150.0 431.0 L1151.0 432.5 L1152.0 435.0 L1154.0 435.0 L1155.0 435.5 L1156.0 435.0 L1158.0 435.0 L1159.0 437.0 L1160.0 438.0 L1162.0 439.0 L1163.0 439.5 L1164.0 440.0 L1166.0 443.5 L1167.0 447.0 L1168.0 445.5 L1169.0 444.5 L1171.0 443.5 L1172.0 446.0 L1173.0 450.0 L1175.0 453.0 L1176.0 458.0 L1177.0 460.5 L1179.0 456.5 L1180.0 450.0 L1181.0 446.5 L1183.0 443.5 L1184.0 441.0 L1185.0 439.0 L1187.0 436.0 L1188.0 434.0 L1189.0 433.5 L1191.0 432.5 L1192.0 434.0 L1193.0 432.5 L1195.0 431.0 L1196.0 430.5 L1197.0 429.5 L1199.0 430.0 L1200.0 430.0 L1201.0 429.0 L1203.0 427.5 L1204.0 426.5 L1205.0 426.0 L1206.0 426.5 L1208.0 426.5 L1209.0 425.5 L1210.0 426.0 L1212.0 426.5 L1213.0 427.0 L1214.0 427.0 L1216.0 430.5 L1217.0 432.0 L1218.0 430.0 L1220.0 430.5 L1221.0 430.0"/>
<path d="M1223.7 426.0 L1225.0 425.5 L1226.0 428.0 L1228.0 427.0 L1229.0 427.5 L1230.0 430.0 L1232.0 429.5 L1233.0 430.0 L1234.0 429.5 L1236.0 429.5 L1237.0 427.5 L1238.0 427.0 L1240.0 428.0 L1241.0 427.5 L1242.0 427.5 L1244.0 426.0 L1245.0 423.5 L1246.0 421.0 L1247.0 419.0 L1249.0 417.5 L1250.0 417.0 L1251.0 418.5 L1253.0 418.0 L1254.0 417.0 L1255.0 416.0 L1257.0 416.0 L1258.0 416.0 L1259.0 413.5 L1261.0 414.0 L1262.0 414.5 L1263.0 416.0 L1265.0 417.0 L1266.0 417.5 L1267.0 420.0 L1269.0 421.0 L1270.0 421.0 L1271.0 421.0 L1273.0 420.5 L1274.0 420.0 L1275.0 422.0 L1277.0 422.5 L1278.0 423.0 L1279.0 423.5 L1281.0 424.0 L1282.0 423.5 L1283.0 423.0 L1284.0 423.0 L1286.0 422.0 L1287.0 424.5 L1288.0 422.5 L1290.0 425.5 L1291.0 428.0 L1292.0 429.5 L1294.0 430.5 L1295.0 431.0 L1296.0 431.0 L1297.7 430.0"/>
<path d="M1300.4 430.0 L1302.0 430.0 L1303.0 429.0 L1304.0 429.0 L1306.0 431.5 L1307.0 430.5 L1308.0 432.5 L1310.0 430.0 L1311.0 429.5 L1312.0 429.5 L1314.0 429.5 L1315.0 430.0 L1316.0 430.0 L1318.0 431.5 L1319.0 432.0 L1320.0 436.0 L1322.0 437.0 L1323.0 439.0 L1324.0 438.5 L1325.0 440.5 L1327.0 438.5 L1328.0 437.0 L1329.0 437.0 L1331.0 436.5 L1332.0 443.0 L1333.0 442.5 L1335.0 442.5 L1336.0 443.0 L1337.0 445.0 L1339.0 444.0 L1340.0 444.0 L1341.0 443.5 L1343.0 443.5 L1344.0 443.5 L1345.0 444.0 L1347.0 446.0 L1348.0 446.5 L1349.0 446.5 L1351.0 447.5 L1352.0 447.0 L1353.0 447.0 L1355.0 447.5 L1356.0 448.0 L1357.0 446.5 L1359.0 447.5 L1360.0 448.5 L1361.0 450.5 L1362.0 451.0 L1364.0 451.5 L1365.0 451.0 L1366.0 451.0 L1368.0 451.5 L1369.0 451.0 L1370.0 451.5 L1372.0 450.5 L1373.0 451.0 L1374.0 449.5 L1376.0 444.5 L1377.0 441.5 L1378.0 419.0 L1380.0 409.0 L1381.0 398.5 L1382.0 389.5 L1384.0 402.0 L1385.0 406.5 L1386.0 410.5 L1388.0 413.0 L1389.0 414.5 L1390.0 413.0 L1392.0 410.5 L1393.0 409.5 L1394.0 408.0 L1396.0 406.0 L1397.0 404.5 L1398.0 405.0 L1400.0 404.0 L1401.0 406.0 L1402.0 406.5 L1403.0 408.0 L1405.0 409.0 L1406.0 405.0 L1407.0 402.0 L1409.0 399.0 L1410.0 398.5 L1411.0 396.0 L1413.0 395.5 L1414.0 398.5 L1415.0 400.0 L1417.0 403.5 L1418.0 405.0 L1419.0 409.0 L1421.0 407.5 L1422.0 407.5 L1423.0 410.0 L1425.0 413.0 L1426.0 412.5 L1427.0 411.0 L1429.0 411.0 L1430.0 409.5 L1431.0 409.5 L1433.0 407.0 L1434.0 406.5 L1435.0 406.0 L1437.0 406.0 L1438.0 405.5 L1439.0 404.0 L1440.0 402.5 L1442.0 402.5 L1443.0 405.0 L1444.0 408.5 L1446.0 408.5 L1447.0 408.5 L1448.0 407.5 L1450.0 407.5 L1451.0 408.0 L1452.0 407.5 L1454.0 408.5 L1455.0 407.5 L1456.0 406.5 L1458.0 407.5 L1459.0 412.5 L1460.0 416.0 L1462.0 418.0 L1463.0 418.5 L1464.0 416.5 L1466.0 415.5 L1467.0 418.0 L1468.0 416.0 L1470.0 414.5 L1471.0 413.5 L1472.0 412.5 L1474.0 412.5 L1475.0 413.0 L1476.0 412.5 L1478.0 411.5 L1479.0 411.5 L1480.0 411.0 L1481.0 410.5 L1483.0 409.0 L1484.0 407.5 L1485.0 404.0 L1487.0 403.0 L1488.0 402.0 L1489.0 400.5 L1491.0 401.0 L1492.0 401.5 L1493.0 399.0 L1495.0 398.0 L1496.0 395.0 L1497.0 394.0 L1499.0 396.0 L1500.0 395.0 L1501.0 396.0 L1503.0 397.0 L1504.0 398.5 L1505.0 400.0 L1507.0 398.0 L1508.0 397.0 L1509.0 395.5 L1511.0 393.0 L1512.0 394.0 L1513.0 394.0 L1515.0 394.5 L1516.0 393.5 L1517.0 391.0 L1518.0 389.5 L1520.0 391.0 L1521.0 391.0 L1522.0 393.0 L1524.0 395.5 L1525.0 396.0 L1526.0 396.5 L1528.0 397.5 L1529.0 398.5 L1530.0 399.5 L1532.0 397.0 L1533.0 401.0 L1534.4 403.0"/>
</g>
<g fill="none" stroke="#85d5d9" stroke-width="4.3" stroke-linejoin="bevel" stroke-linecap="butt">
<path d="M215.0 214.5 L216.0 202.5 L218.0 190.0 L219.0 180.0 L220.0 179.0 L222.0 178.0 L223.0 180.0 L224.0 181.0 L226.0 182.5 L227.0 185.0 L228.0 187.5 L230.0 192.0 L231.0 189.5 L232.0 187.5 L234.0 185.0 L235.0 183.5 L236.0 182.5 L237.0 190.0 L239.0 197.0 L240.0 199.5 L241.0 201.5 L243.0 195.0 L244.0 192.0 L245.0 188.5 L247.0 185.0 L248.0 180.5 L249.0 170.5 L251.0 167.5 L252.0 164.5 L253.0 168.5 L255.0 172.0 L256.0 185.0 L257.0 190.5 L259.0 193.0 L260.0 194.0 L261.0 195.5 L263.0 196.5 L264.0 197.0 L265.0 203.0 L267.0 211.0 L268.0 220.0 L269.0 223.5 L271.0 219.0 L272.0 223.5 L273.0 219.5 L274.0 225.5 L276.0 221.0 L277.0 225.0 L278.0 221.0 L280.0 226.5 L281.0 223.0 L282.0 231.5 L284.0 237.0 L285.0 233.0 L286.0 236.0 L288.0 229.5 L289.0 228.0 L290.0 228.0 L292.0 228.5 L293.0 230.0 L294.0 232.0 L296.0 235.5 L297.0 236.5 L298.0 237.5 L300.0 236.5 L301.0 235.5 L302.0 234.5 L304.0 232.0 L305.0 230.0 L306.0 225.5 L308.0 225.0 L309.0 226.0 L310.0 225.0 L312.0 224.0 L313.0 222.0 L314.0 221.5 L315.0 223.0 L317.0 225.0 L318.0 227.5 L319.0 229.5 L321.0 231.5 L322.0 228.5 L323.0 225.5 L325.0 222.0 L326.0 216.0 L327.0 215.0 L329.0 213.0 L330.0 211.0 L331.0 209.0 L333.0 208.0 L334.0 205.5 L335.0 204.5 L337.0 204.5 L338.0 204.5 L339.0 203.0 L341.0 206.0 L342.0 207.0 L343.0 208.0 L345.0 209.0 L346.0 209.5 L347.0 211.5 L349.0 212.5 L350.0 215.0 L351.0 216.5 L352.0 219.5 L354.0 223.0 L355.0 222.5 L356.0 218.5 L358.0 216.5 L359.0 215.0 L360.0 213.0 L362.0 208.0 L363.0 210.5 L364.0 213.5 L366.0 217.5 L367.0 221.0 L368.0 224.5 L370.0 226.5 L371.0 223.0 L372.0 222.0 L374.0 222.0 L375.0 221.0 L376.0 221.5 L378.0 222.0 L379.0 222.5 L380.0 222.0 L382.0 222.0 L383.0 222.0 L384.0 221.5 L386.0 219.0 L387.0 226.5 L388.0 246.0 L390.0 251.0 L391.0 256.0 L392.0 249.5 L393.0 245.5 L395.0 238.5 L396.0 238.0 L397.0 238.0 L399.0 240.0 L400.0 240.5 L401.0 235.0 L403.0 233.0 L404.0 232.5 L405.0 238.0 L407.0 238.0 L408.0 241.0 L409.0 241.5 L411.0 242.5 L412.0 246.5 L413.0 250.5 L415.0 248.0 L416.0 245.0 L417.0 246.5 L419.0 247.5 L420.0 248.5 L421.0 251.0 L423.0 249.5 L424.0 247.5 L425.0 242.0 L427.0 238.0 L428.0 234.5 L429.0 235.5 L430.0 236.0 L432.0 236.5 L433.0 235.0 L434.0 240.0 L436.0 246.0 L437.0 250.5 L438.0 248.5 L440.0 248.0 L441.0 247.0 L442.0 245.0 L444.0 243.0 L445.0 240.5 L446.0 239.5 L448.0 241.5 L449.0 243.5 L450.0 243.5 L452.0 242.5 L453.0 238.5 L454.0 238.5 L456.0 242.5 L457.0 242.0 L458.0 241.5 L460.0 239.5 L461.0 238.5 L462.0 237.5 L464.0 238.0 L465.0 241.0 L466.0 242.5 L468.0 242.5 L469.0 244.0 L470.0 244.0 L471.0 245.0 L473.0 245.5 L474.0 247.5 L475.0 245.5 L477.0 245.0 L478.0 243.0 L479.0 244.0 L481.0 241.5 L482.0 243.5 L483.0 246.0 L485.0 243.5 L486.0 242.5 L487.0 242.0 L489.0 242.0 L490.0 242.0 L491.0 241.0 L493.0 243.0 L494.0 245.0 L495.0 246.0 L497.0 247.0 L498.0 244.0 L499.0 243.0 L501.0 240.0 L502.0 239.0 L503.0 229.5 L505.0 228.0 L506.0 227.0 L507.0 227.5 L508.0 227.5 L510.0 228.0 L511.0 229.5 L512.0 240.5 L514.0 239.0 L515.0 239.5 L516.0 239.5 L518.0 239.5 L519.0 239.0 L520.0 238.0 L522.0 240.0 L523.0 241.0 L524.0 241.5 L526.0 243.5 L527.0 245.5 L528.0 247.5 L530.0 249.5 L531.0 250.0 L532.0 251.0 L534.0 252.0 L535.0 254.0 L536.0 255.5 L538.0 256.0 L539.0 254.0 L540.0 250.5 L542.0 251.5 L543.0 252.0 L544.0 254.5 L546.0 256.0 L547.0 261.0 L548.0 268.0 L549.0 266.0 L551.0 266.0 L552.0 263.0 L553.0 264.5 L555.0 266.0 L556.0 269.0 L557.0 272.5 L559.0 268.5 L560.0 265.5 L561.0 263.5 L563.0 262.0 L564.0 264.5 L565.0 266.5 L567.0 267.5 L568.0 270.5 L569.0 271.0 L571.0 272.0 L572.0 268.0 L573.0 271.5 L575.0 277.0 L576.0 284.5 L577.0 292.5 L579.0 297.0 L580.0 300.5 L581.0 303.0 L583.0 306.0 L584.0 322.0 L585.0 309.0 L586.0 301.0 L588.0 300.5 L589.0 302.0 L590.0 302.0 L592.0 301.5 L593.0 306.0 L594.0 307.5 L596.0 310.5 L597.0 306.5 L598.0 303.0 L600.0 299.0 L601.0 301.5 L602.0 304.5 L604.0 306.5 L605.0 308.0 L606.0 312.0 L608.0 307.5 L609.0 305.0 L610.0 307.0 L612.0 306.5 L613.0 310.5 L614.0 313.5 L616.0 318.0 L617.0 330.0 L618.0 335.5 L620.0 341.0 L621.0 336.0 L622.0 330.0 L623.0 331.0 L625.0 331.5 L626.0 329.5 L627.0 325.5 L629.0 324.5 L630.0 321.5 L631.0 321.5 L633.0 322.0 L634.0 323.5 L635.0 323.5 L637.0 322.5 L638.0 320.0 L639.0 320.0 L641.0 321.5 L642.0 326.0 L643.0 324.5 L645.0 323.0 L646.0 321.5 L647.0 317.0 L649.0 314.0 L650.0 311.5 L651.0 310.0 L653.0 309.5 L654.0 306.0 L655.0 305.0 L657.0 305.5 L658.0 304.5 L659.0 303.0 L661.0 301.5 L662.0 300.5 L663.0 300.5 L664.0 297.0 L666.0 293.5 L667.0 291.0 L668.0 287.0 L670.0 283.0 L671.0 281.0 L672.0 279.5 L674.0 283.0 L675.0 284.5 L676.0 283.0 L678.0 282.0 L679.0 279.0 L680.0 282.0 L682.0 285.5 L683.0 291.5 L684.0 294.0 L686.0 297.0 L687.0 295.5 L688.0 296.5 L690.0 298.0 L691.0 298.0 L692.0 299.0 L694.0 300.0 L695.0 303.0 L696.0 304.0 L698.0 306.5 L699.0 307.0 L700.0 308.0 L701.0 308.0 L703.0 310.0 L704.0 312.0 L705.0 314.5 L707.0 313.5 L708.0 314.5 L709.0 312.0 L711.0 309.5 L712.0 309.0 L713.0 308.0 L715.0 310.0 L716.0 308.5 L717.0 304.5 L719.0 306.0 L720.0 308.0 L721.0 310.0 L723.0 310.0 L724.0 310.5 L725.0 312.5 L727.0 312.5 L728.0 316.0 L729.0 318.0 L731.0 319.5 L732.0 320.5 L733.0 322.0 L735.0 319.0 L736.0 317.5 L737.0 316.5 L739.0 316.5 L740.0 315.0 L741.0 318.0 L742.0 320.0 L744.0 323.5 L745.0 328.5 L746.0 330.0 L748.0 331.0 L749.0 332.5 L750.0 334.0 L752.0 335.0 L753.0 336.0 L754.0 339.0 L756.0 342.0 L757.0 344.0 L758.0 345.0 L760.0 347.0 L761.0 344.5 L762.0 342.5 L764.0 340.0 L765.0 338.5 L766.0 339.5 L768.0 342.5 L769.0 345.5 L770.0 347.0 L772.0 348.5 L773.0 350.5 L774.0 353.5 L776.0 356.5 L777.0 368.0 L778.0 362.5 L779.0 356.5 L781.0 353.0 L782.0 348.0 L783.0 346.0 L785.0 344.5 L786.0 345.0 L787.0 346.5 L789.0 344.0 L790.0 341.5 L791.0 340.0 L793.0 339.5 L794.0 339.5 L795.0 341.0 L797.0 342.0 L798.0 343.5 L799.0 344.5 L801.0 345.0 L802.0 346.0 L803.0 344.5 L805.0 339.5 L806.0 334.5 L807.0 333.0 L809.0 329.5 L810.0 326.5 L811.0 326.5 L813.0 327.0 L814.0 328.0 L815.0 329.5 L817.0 327.5 L818.0 328.5 L819.0 328.5 L820.0 327.5 L822.0 329.5 L823.0 332.0 L824.0 335.5 L826.0 337.5 L827.0 338.5 L828.0 337.5 L830.0 336.5 L831.0 336.5 L832.0 337.5 L834.0 338.0 L835.0 337.5 L836.0 336.0 L838.0 336.0 L839.0 332.0 L840.0 328.5 L842.0 326.0 L843.0 324.5 L844.0 322.5 L846.0 321.0 L847.0 317.5 L848.0 314.0 L850.0 312.0 L851.0 310.0 L852.0 309.5 L854.0 308.0 L855.0 307.5 L856.0 307.5 L857.0 308.0 L859.0 309.5 L860.0 311.5 L861.0 313.0 L863.0 315.0 L864.0 315.5 L865.0 314.5 L867.0 313.0 L868.0 311.0 L869.0 313.5 L871.0 313.0 L872.0 313.5 L873.0 312.0 L875.0 313.0 L876.0 313.0 L877.0 312.0 L879.0 313.5 L880.0 315.0 L881.0 317.0 L883.0 315.5 L884.0 315.5 L885.0 319.0 L887.0 320.5 L888.0 318.5 L889.0 320.0 L891.0 321.0 L892.0 325.0 L893.0 327.5 L895.0 326.5 L896.0 325.5 L897.0 326.5 L898.0 327.0 L900.0 324.5 L901.0 322.0 L902.0 321.0 L904.0 321.0 L905.0 321.0 L906.0 324.0 L908.0 323.5 L909.0 323.0 L910.0 319.0 L912.0 317.0 L913.0 315.5 L914.0 313.5 L916.0 315.5 L917.0 316.0 L918.0 314.5 L920.0 316.0 L921.0 312.5 L922.0 311.0 L924.0 310.0 L925.0 310.0 L926.0 314.0 L928.0 316.5 L929.0 319.0 L930.0 322.5 L932.0 324.0 L933.0 325.0 L934.0 324.0 L935.0 322.5 L937.0 321.5 L938.0 320.0 L939.0 324.0 L941.0 325.0 L942.0 326.0 L943.0 326.5 L945.0 326.5 L946.0 326.5 L947.0 325.5 L949.0 328.0 L950.0 328.0 L951.0 330.0 L953.0 331.5 L954.0 334.5 L955.0 337.0 L957.0 337.5 L958.0 337.5 L959.0 337.5 L961.0 339.5 L962.0 338.5 L963.0 337.0 L965.0 339.5 L966.0 341.5 L967.0 341.5 L969.0 338.0 L970.0 337.0 L971.0 334.5 L973.0 333.0 L974.0 333.0 L975.0 330.5 L976.0 328.5 L978.0 329.0 L979.0 328.5 L980.0 341.0 L982.0 338.5 L983.0 336.0 L984.0 334.5 L986.0 334.5 L987.0 334.0 L988.0 337.5 L990.0 337.5 L991.0 338.5 L992.0 339.0 L994.0 336.5 L995.0 335.0 L996.0 332.5 L998.0 333.5 L999.0 335.0 L1000.0 336.0 L1002.0 337.0 L1003.0 338.0 L1004.0 337.5 L1006.0 339.0 L1007.0 336.5 L1008.0 332.0 L1010.0 330.0 L1011.0 326.5 L1012.0 324.0 L1013.0 326.0 L1015.0 325.0 L1016.0 324.0 L1017.0 323.0 L1019.0 323.5 L1020.0 324.5 L1021.0 327.0 L1023.0 330.0 L1024.0 333.0 L1025.0 336.0 L1027.0 337.0 L1028.0 337.0 L1029.0 339.0 L1031.0 342.0 L1032.0 345.5 L1033.0 348.5 L1035.0 351.0 L1036.0 348.0 L1037.0 346.0 L1039.0 344.5 L1040.0 343.5 L1041.0 342.0 L1043.0 340.5 L1044.0 339.5 L1045.0 339.0 L1047.0 342.0 L1048.0 343.5 L1049.0 344.5 L1051.0 345.5 L1052.0 346.5 L1053.0 345.5 L1054.0 347.5 L1056.0 347.5 L1057.0 349.0 L1058.0 349.0 L1060.0 349.5 L1061.0 350.0 L1062.0 350.0 L1064.0 349.5 L1065.0 352.5 L1066.0 350.5 L1068.0 352.5 L1069.0 350.0 L1070.0 351.0 L1072.0 351.0 L1073.0 354.0 L1074.0 354.5 L1076.0 356.5 L1077.0 358.5 L1078.0 361.0 L1080.0 365.0 L1081.0 367.0 L1082.0 369.0 L1084.0 369.0 L1085.0 367.0 L1086.0 366.5 L1088.0 362.0 L1089.0 360.5 L1090.0 360.0 L1091.0 363.5 L1093.0 364.0 L1094.0 361.5 L1095.0 358.5 L1097.0 357.0 L1098.0 357.5 L1099.0 359.0 L1101.0 358.5 L1102.0 361.0 L1103.0 361.0 L1105.0 363.0 L1106.0 364.0 L1107.0 362.0 L1109.0 364.0 L1110.0 365.0 L1111.0 365.0 L1113.0 365.5 L1114.0 369.0 L1115.0 369.5 L1117.0 370.5 L1118.0 371.0 L1119.0 369.5 L1121.0 373.0 L1122.0 377.5 L1123.0 378.0 L1125.0 379.0 L1126.0 378.5 L1127.0 376.0 L1129.0 376.5 L1130.0 380.0 L1131.0 381.0 L1132.0 380.5 L1134.0 382.0 L1135.0 383.5 L1136.0 386.0 L1138.0 387.0 L1139.0 384.5 L1140.0 382.5 L1142.0 380.5 L1143.0 379.5 L1144.0 380.5 L1146.0 376.0 L1147.0 376.0"/>
<path d="M1149.7 380.0 L1151.0 383.5 L1152.0 386.5 L1154.0 387.5 L1155.0 387.5 L1156.0 386.5 L1158.0 386.0 L1159.0 387.0 L1160.0 387.5 L1162.0 391.0 L1163.0 391.5 L1164.0 392.0 L1166.0 393.0 L1167.0 394.0 L1168.0 390.5 L1169.0 390.5 L1171.0 389.0 L1172.0 389.0 L1173.0 389.0 L1175.0 390.5 L1176.0 396.5 L1177.0 397.5 L1179.0 393.5 L1180.0 388.0 L1181.0 382.5 L1183.0 378.0 L1184.0 376.0 L1185.0 372.5 L1187.0 371.5 L1188.0 370.0 L1189.0 369.0 L1191.0 368.0 L1192.0 369.0 L1193.0 367.5 L1195.0 365.5 L1196.0 365.0 L1197.0 364.0 L1199.0 362.5 L1200.0 364.5 L1201.0 363.0 L1203.0 362.5 L1204.0 360.5 L1205.0 360.5 L1206.0 359.5 L1208.0 359.5 L1209.0 359.0 L1210.0 358.0 L1212.0 358.0 L1213.0 359.5 L1214.0 363.0 L1216.0 366.5 L1217.0 367.0 L1218.0 366.5 L1220.0 369.0 L1221.0 369.0"/>
<path d="M1223.7 361.0 L1225.0 361.5 L1226.0 362.0 L1228.0 363.0 L1229.0 364.0 L1230.0 362.5 L1232.0 367.0 L1233.0 368.5 L1234.0 365.0 L1236.0 364.0 L1237.0 362.0 L1238.0 366.5 L1240.0 368.0 L1241.0 367.0 L1242.0 363.5 L1244.0 361.5 L1245.0 361.0 L1246.0 358.5 L1247.0 356.5 L1249.0 355.5 L1250.0 354.0 L1251.0 356.0 L1253.0 355.5 L1254.0 356.0 L1255.0 354.5 L1257.0 354.0 L1258.0 353.0 L1259.0 351.0 L1261.0 352.0 L1262.0 352.5 L1263.0 354.0 L1265.0 355.5 L1266.0 356.0 L1267.0 357.5 L1269.0 357.5 L1270.0 358.5 L1271.0 359.0 L1273.0 359.0 L1274.0 359.0 L1275.0 359.5 L1277.0 359.0 L1278.0 361.0 L1279.0 362.5 L1281.0 363.5 L1282.0 364.5 L1283.0 365.0 L1284.0 366.0 L1286.0 365.5 L1287.0 366.0 L1288.0 366.0 L1290.0 368.5 L1291.0 368.5 L1292.0 369.0 L1294.0 369.5 L1295.0 372.0 L1296.0 371.0 L1297.7 372.5"/>
<path d="M1300.4 371.0 L1302.0 371.0 L1303.0 371.5 L1304.0 372.5 L1306.0 373.0 L1307.0 372.5 L1308.0 371.5 L1310.0 370.0 L1311.0 369.5 L1312.0 368.0 L1314.0 367.5 L1315.0 367.0 L1316.0 367.5 L1318.0 366.0 L1319.0 366.5 L1320.0 373.5 L1322.0 374.5 L1323.0 376.0 L1324.0 377.5 L1325.0 379.0 L1327.0 377.0 L1328.0 375.5 L1329.0 376.5 L1331.0 378.0 L1332.0 382.0 L1333.0 383.5 L1335.0 384.0 L1336.0 382.5 L1337.0 381.5 L1339.0 384.0 L1340.0 384.0 L1341.0 385.0 L1343.0 383.5 L1344.0 384.0 L1345.0 383.0 L1347.0 383.5 L1348.0 384.5 L1349.0 385.0 L1351.0 385.5 L1352.0 387.5 L1353.0 387.5 L1355.0 388.0 L1356.0 388.0 L1357.0 386.0 L1359.0 388.5 L1360.0 390.0 L1361.0 391.0 L1362.0 392.5 L1364.0 393.5 L1365.0 393.0 L1366.0 395.5 L1368.0 396.0 L1369.0 395.5 L1370.0 396.5 L1372.0 395.5 L1373.0 396.5 L1374.0 391.0 L1376.0 383.5 L1377.0 376.0 L1378.0 350.0 L1380.0 333.0 L1381.0 317.0 L1382.0 301.0 L1384.0 327.0 L1385.0 330.5 L1386.0 333.5 L1388.0 335.5 L1389.0 337.5 L1390.0 338.5 L1392.0 335.5 L1393.0 332.0 L1394.0 328.0 L1396.0 327.0 L1397.0 325.5 L1398.0 328.0 L1400.0 327.0 L1401.0 330.0 L1402.0 329.5 L1403.0 329.0 L1405.0 329.5 L1406.0 326.5 L1407.0 324.0 L1409.0 318.5 L1410.0 314.5 L1411.0 313.5 L1413.0 314.0 L1414.0 314.0 L1415.0 316.0 L1417.0 318.5 L1418.0 323.0 L1419.0 329.0 L1421.0 326.0 L1422.0 326.5 L1423.0 330.0 L1425.0 334.5 L1426.0 333.5 L1427.0 333.0 L1429.0 332.5 L1430.0 330.5 L1431.0 329.5 L1433.0 327.5 L1434.0 327.0 L1435.0 326.5 L1437.0 326.0 L1438.0 325.5 L1439.0 323.0 L1440.0 323.5 L1442.0 322.0 L1443.0 321.5 L1444.0 328.5 L1446.0 329.0 L1447.0 329.0 L1448.0 329.5 L1450.0 330.5 L1451.0 329.5 L1452.0 329.5 L1454.0 326.5 L1455.0 326.0 L1456.0 326.0 L1458.0 326.5 L1459.0 333.5 L1460.0 341.0 L1462.0 342.5 L1463.0 343.5 L1464.0 342.5 L1466.0 341.5 L1467.0 347.0 L1468.0 344.5 L1470.0 341.5 L1471.0 341.0 L1472.0 342.5 L1474.0 340.5 L1475.0 340.0 L1476.0 339.5 L1478.0 340.0 L1479.0 338.0 L1480.0 338.5 L1481.0 339.0 L1483.0 341.0 L1484.0 340.5 L1485.0 334.5 L1487.0 333.5 L1488.0 333.0 L1489.0 333.0 L1491.0 331.5 L1492.0 330.5 L1493.0 329.5 L1495.0 329.0 L1496.0 328.5 L1497.0 328.5 L1499.0 328.5 L1500.0 329.0 L1501.0 329.0 L1503.0 327.5 L1504.0 330.0 L1505.0 332.5 L1507.0 331.0 L1508.0 330.0 L1509.0 330.5 L1511.0 329.0 L1512.0 329.0 L1513.0 330.0 L1515.0 330.0 L1516.0 328.0 L1517.0 327.0 L1518.0 328.0 L1520.0 327.0 L1521.0 323.5 L1522.0 326.5 L1524.0 328.5 L1525.0 329.5 L1526.0 330.5 L1528.0 332.0 L1529.0 331.5 L1530.0 332.5 L1532.0 333.0 L1533.0 334.0 L1534.4 335.5"/>
</g>
<g fill="none" stroke="#9e9e9e" stroke-width="4.3" stroke-linejoin="bevel" stroke-linecap="butt">
<path d="M215.0 214.0 L216.0 204.5 L218.0 194.5 L219.0 189.0 L220.0 187.0 L222.0 186.0 L223.0 185.0 L224.0 185.5 L226.0 185.5 L227.0 192.0 L228.0 194.5 L230.0 193.5 L231.0 191.5 L232.0 183.0 L234.0 171.0 L235.0 169.0 L236.0 167.5 L237.0 178.5 L239.0 190.0 L240.0 193.5 L241.0 187.5 L243.0 181.0 L244.0 182.5 L245.0 183.5 L247.0 181.0 L248.0 169.5 L249.0 158.5 L251.0 155.0 L252.0 163.0 L253.0 172.0 L255.0 182.0 L256.0 191.0 L257.0 199.0 L259.0 206.0 L260.0 208.0 L261.0 202.5 L263.0 200.0 L264.0 204.5 L265.0 212.5 L267.0 221.5 L268.0 233.0 L269.0 236.5 L271.0 233.0 L272.0 234.5 L273.0 233.5 L274.0 231.5 L276.0 235.5 L277.0 233.0 L278.0 231.5 L280.0 235.0 L281.0 237.5 L282.0 240.5 L284.0 241.5 L285.0 237.5 L286.0 234.0 L288.0 232.5 L289.0 232.5 L290.0 227.0 L292.0 221.5 L293.0 221.5 L294.0 221.5 L296.0 226.5 L297.0 231.0 L298.0 236.5 L300.0 236.0 L301.0 235.0 L302.0 227.5 L304.0 225.0 L305.0 223.5 L306.0 220.5 L308.0 217.0 L309.0 214.0 L310.0 212.5 L312.0 213.0 L313.0 209.0 L314.0 206.0 L315.0 209.0 L317.0 214.5 L318.0 218.0 L319.0 222.5 L321.0 222.0 L322.0 220.5 L323.0 216.5 L325.0 214.0 L326.0 206.5 L327.0 207.5 L329.0 204.5 L330.0 201.5 L331.0 198.5 L333.0 192.5 L334.0 191.5 L335.0 193.5 L337.0 190.5 L338.0 188.5 L339.0 185.0 L341.0 188.5 L342.0 190.0 L343.0 190.0 L345.0 191.0 L346.0 192.0 L347.0 189.0 L349.0 188.5 L350.0 192.5 L351.0 198.5 L352.0 204.0 L354.0 200.0 L355.0 197.5 L356.0 192.5 L358.0 190.0 L359.0 188.5 L360.0 187.5 L362.0 182.5 L363.0 177.0 L364.0 178.0 L366.0 181.0 L367.0 186.0 L368.0 188.5 L370.0 189.0 L371.0 186.0 L372.0 184.0 L374.0 181.5 L375.0 179.5 L376.0 178.0 L378.0 175.5 L379.0 175.0 L380.0 174.5 L382.0 175.0 L383.0 175.0 L384.0 172.0 L386.0 169.5 L387.0 177.0 L388.0 187.0 L390.0 197.0 L391.0 207.5 L392.0 202.5 L393.0 197.0 L395.0 189.0 L396.0 188.0 L397.0 186.5 L399.0 185.5 L400.0 186.0 L401.0 184.0 L403.0 180.5 L404.0 181.0 L405.0 180.5 L407.0 185.5 L408.0 190.0 L409.0 194.5 L411.0 201.0 L412.0 206.0 L413.0 202.0 L415.0 197.0 L416.0 191.0 L417.0 195.0 L419.0 199.0 L420.0 200.0 L421.0 201.5 L423.0 201.5 L424.0 200.5 L425.0 202.0 L427.0 204.5 L428.0 193.0 L429.0 192.0 L430.0 190.5 L432.0 191.5 L433.0 191.5 L434.0 199.5 L436.0 203.5 L437.0 206.5 L438.0 204.0 L440.0 204.0 L441.0 206.5 L442.0 208.5 L444.0 204.5 L445.0 204.0 L446.0 204.5 L448.0 208.5 L449.0 207.0 L450.0 205.5 L452.0 204.5 L453.0 202.0 L454.0 201.0 L456.0 200.0 L457.0 197.5 L458.0 197.0 L460.0 196.0 L461.0 195.0 L462.0 194.0 L464.0 195.5 L465.0 196.5 L466.0 197.0 L468.0 199.5 L469.0 199.5 L470.0 198.0 L471.0 197.0 L473.0 197.5 L474.0 200.5 L475.0 200.0 L477.0 199.0 L478.0 196.5 L479.0 193.5 L481.0 195.0 L482.0 194.0 L483.0 192.5 L485.0 190.5 L486.0 188.0 L487.0 188.0 L489.0 185.5 L490.0 187.0 L491.0 188.0 L493.0 187.5 L494.0 186.0 L495.0 187.5 L497.0 188.5 L498.0 189.5 L499.0 189.0 L501.0 191.5 L502.0 191.0 L503.0 189.5 L505.0 184.5 L506.0 179.5 L507.0 182.0 L508.0 182.5 L510.0 183.5 L511.0 186.0 L512.0 197.5 L514.0 198.0 L515.0 199.0 L516.0 199.5 L518.0 199.5 L519.0 200.0 L520.0 197.5 L522.0 197.5 L523.0 200.0 L524.0 197.0 L526.0 204.0 L527.0 210.0 L528.0 214.0 L530.0 217.5 L531.0 218.5 L532.0 220.5 L534.0 220.5 L535.0 220.0 L536.0 221.0 L538.0 221.5 L539.0 220.5 L540.0 219.5 L542.0 222.0 L543.0 225.0 L544.0 226.5 L546.0 230.0 L547.0 235.5 L548.0 242.0 L549.0 243.0 L551.0 245.0 L552.0 247.0 L553.0 249.5 L555.0 250.0 L556.0 251.5 L557.0 252.0 L559.0 248.0 L560.0 244.5 L561.0 245.5 L563.0 246.0 L564.0 244.5 L565.0 242.5 L567.0 243.0 L568.0 243.5 L569.0 244.0 L571.0 241.5 L572.0 244.0 L573.0 250.0 L575.0 256.5 L576.0 262.5 L577.0 269.5 L579.0 273.0 L580.0 278.0 L581.0 273.0 L583.0 270.0 L584.0 294.0 L585.0 281.0 L586.0 274.5 L588.0 272.5 L589.0 274.0 L590.0 275.0 L592.0 275.5 L593.0 276.5 L594.0 281.5 L596.0 282.5 L597.0 279.5 L598.0 278.0 L600.0 279.0 L601.0 282.0 L602.0 286.5 L604.0 290.0 L605.0 290.0 L606.0 298.0 L608.0 297.5 L609.0 295.5 L610.0 294.5 L612.0 293.0 L613.0 292.0 L614.0 297.0 L616.0 302.5 L617.0 315.0 L618.0 325.5 L620.0 320.0 L621.0 317.0 L622.0 316.0 L623.0 311.0 L625.0 306.0 L626.0 309.0 L627.0 312.0 L629.0 309.5 L630.0 306.5 L631.0 302.5 L633.0 301.5 L634.0 299.5 L635.0 297.5 L637.0 298.5 L638.0 299.5 L639.0 291.5 L641.0 293.5 L642.0 298.0 L643.0 300.0 L645.0 296.5 L646.0 294.0 L647.0 291.0 L649.0 285.5 L650.0 278.0 L651.0 275.5 L653.0 275.0 L654.0 273.0 L655.0 270.5 L657.0 271.0 L658.0 269.0 L659.0 272.5 L661.0 269.5 L662.0 267.0 L663.0 261.0 L664.0 260.0 L666.0 261.0 L667.0 259.0 L668.0 260.0 L670.0 255.5 L671.0 250.0 L672.0 246.0 L674.0 247.5 L675.0 247.0 L676.0 245.5 L678.0 244.0 L679.0 244.0 L680.0 246.0 L682.0 244.0 L683.0 249.5 L684.0 254.0 L686.0 259.5 L687.0 258.5 L688.0 258.0 L690.0 256.5 L691.0 257.0 L692.0 257.5 L694.0 259.0 L695.0 260.0 L696.0 262.0 L698.0 259.5 L699.0 258.5 L700.0 259.0 L701.0 258.0 L703.0 259.0 L704.0 263.5 L705.0 267.5 L707.0 265.5 L708.0 263.0 L709.0 259.5 L711.0 259.0 L712.0 258.0 L713.0 259.0 L715.0 259.0 L716.0 258.0 L717.0 256.0 L719.0 257.0 L720.0 256.5 L721.0 257.5 L723.0 260.0 L724.0 263.5 L725.0 264.5 L727.0 266.5 L728.0 267.0 L729.0 268.5 L731.0 270.5 L732.0 278.5 L733.0 280.5 L735.0 277.0 L736.0 275.0 L737.0 272.5 L739.0 272.5 L740.0 274.0 L741.0 276.0 L742.0 278.5 L744.0 283.5 L745.0 287.5 L746.0 290.5 L748.0 290.5 L749.0 291.0 L750.0 293.5 L752.0 293.0 L753.0 292.5 L754.0 294.5 L756.0 298.0 L757.0 302.0 L758.0 309.5 L760.0 313.0 L761.0 309.0 L762.0 304.0 L764.0 298.5 L765.0 295.0 L766.0 297.0 L768.0 298.5 L769.0 300.5 L770.0 303.0 L772.0 304.0 L773.0 305.0 L774.0 310.0 L776.0 313.5 L777.0 316.5 L778.0 319.5 L779.0 310.0 L781.0 305.0 L782.0 300.0 L783.0 294.0 L785.0 297.0 L786.0 303.0 L787.0 300.5 L789.0 298.0 L790.0 296.0 L791.0 294.5 L793.0 293.0 L794.0 294.0 L795.0 296.0 L797.0 297.0 L798.0 298.5 L799.0 300.5 L801.0 304.0 L802.0 307.0 L803.0 308.0 L805.0 303.0 L806.0 299.5 L807.0 296.0 L809.0 296.5 L810.0 296.0 L811.0 293.0 L813.0 293.0 L814.0 293.0 L815.0 292.0 L817.0 294.0 L818.0 295.0 L819.0 296.0 L820.0 296.0 L822.0 299.0 L823.0 305.5 L824.0 307.5 L826.0 309.5 L827.0 309.0 L828.0 309.0 L830.0 305.5 L831.0 301.5 L832.0 301.0 L833.7 301.0"/>
<path d="M836.3 297.5 L838.0 296.5 L839.0 294.5 L840.0 291.0 L842.0 290.5 L843.0 288.5 L844.0 288.0 L846.0 286.5 L847.0 286.0 L848.0 281.0 L850.0 279.5 L851.0 278.5 L852.0 276.0 L854.0 275.0 L855.0 273.0 L856.0 272.5 L857.0 274.0 L859.0 275.0 L860.0 276.0 L861.0 278.0 L863.0 280.5 L864.0 279.5 L865.0 279.0 L867.0 277.5 L868.0 276.0 L869.0 279.5 L871.0 283.5 L872.0 286.5 L873.0 283.5 L875.0 284.0 L876.0 285.5 L877.0 286.5 L879.0 285.0 L880.0 285.0 L881.0 287.0 L883.0 289.0 L884.0 289.5 L885.0 287.5 L887.0 289.0 L888.0 292.0 L889.0 293.5 L891.0 295.5 L892.0 297.0 L893.0 299.5 L895.0 301.0 L896.0 302.5 L897.0 303.5 L898.0 304.5 L900.0 302.5 L901.0 300.5 L902.0 299.0 L904.0 298.0 L905.0 299.5 L906.0 300.0 L908.0 295.5 L909.0 294.5 L910.0 292.0 L912.0 293.0 L913.0 291.0 L914.0 290.0 L916.0 288.5 L917.0 290.5 L918.0 290.5 L920.0 290.0 L921.0 289.5 L922.0 288.0 L924.0 289.0 L925.0 290.0 L926.0 293.0 L928.0 294.5 L929.0 300.5 L930.0 307.5 L932.0 307.5 L933.0 308.5 L934.0 307.5 L935.0 304.0 L937.0 306.0 L938.0 306.5 L939.0 311.5 L941.0 314.0 L942.0 315.0 L943.0 315.0 L945.0 315.5 L946.0 314.0 L947.0 316.0 L949.0 316.0 L950.0 315.0 L951.0 313.5 L953.0 314.5 L954.0 316.5 L955.0 317.5 L957.0 319.5 L958.0 318.0 L959.0 318.0 L961.0 319.0 L962.0 318.5 L963.0 318.0 L965.0 319.5 L966.0 321.5 L967.0 323.0 L969.0 322.0 L970.0 320.0 L971.0 317.0 L973.0 313.5 L974.0 309.0 L975.0 307.5 L976.0 307.5 L978.0 309.0 L979.0 308.5 L980.0 318.0 L982.0 316.5 L983.0 316.0 L984.0 315.0 L986.0 314.5 L987.0 311.5 L988.0 316.5 L990.0 318.5 L991.0 317.0 L992.0 320.5 L994.0 318.0 L995.0 317.5 L996.0 318.0 L998.0 317.5 L999.0 316.5 L1000.0 316.0 L1002.0 316.5 L1003.0 318.5 L1004.0 320.5 L1006.0 322.0 L1007.0 321.5 L1008.0 320.5 L1010.0 319.0 L1011.0 314.5 L1012.0 313.5 L1013.0 313.5 L1015.0 313.0 L1016.0 313.5 L1017.0 314.0 L1019.0 313.5 L1020.0 314.0 L1021.0 316.0 L1023.0 317.0 L1024.0 319.5 L1025.0 321.5 L1027.0 323.5 L1028.0 327.0 L1029.0 329.0 L1031.0 331.5 L1032.0 333.5 L1033.0 332.5 L1035.0 334.5 L1036.0 335.5 L1037.0 338.5 L1039.0 332.0 L1040.0 330.5 L1041.0 330.0 L1043.0 329.5 L1044.0 327.5 L1045.0 327.0 L1047.0 326.5 L1048.0 329.5 L1049.0 331.5 L1051.0 331.5 L1052.0 332.5 L1053.0 335.0 L1054.0 335.0 L1056.0 335.0 L1057.0 335.5 L1058.0 336.5 L1060.0 338.0 L1061.0 340.0 L1062.0 341.5 L1064.0 341.5 L1065.0 339.0 L1066.0 339.5 L1068.0 340.0 L1069.0 341.0 L1070.0 340.5 L1072.0 340.5 L1073.0 341.0 L1074.0 341.0 L1076.0 341.5 L1077.0 346.5 L1078.0 349.5 L1080.0 352.5 L1081.0 356.0 L1082.0 358.5 L1084.0 357.0 L1085.0 356.5 L1086.0 353.0 L1088.0 351.5 L1089.0 349.5 L1090.0 348.5 L1091.0 348.0 L1093.0 349.0 L1094.0 347.0 L1095.0 344.5 L1097.0 344.0 L1098.0 342.5 L1099.0 343.5 L1101.0 344.0 L1102.0 344.5 L1103.0 344.0 L1105.0 343.5 L1106.0 342.5 L1107.0 343.0 L1109.0 343.0 L1110.0 345.5 L1111.0 346.5 L1113.0 346.5 L1114.0 348.0 L1115.0 346.5 L1117.0 347.5 L1118.0 347.0 L1119.0 348.5 L1121.0 350.0 L1122.0 354.0 L1123.0 354.5 L1125.0 356.5 L1126.0 355.0 L1127.0 355.5 L1129.0 356.5 L1130.0 355.5 L1131.0 356.5 L1132.0 359.5 L1134.0 359.5 L1135.0 361.5 L1136.0 362.0 L1138.0 363.0 L1139.0 362.5 L1140.0 365.5 L1142.0 364.5 L1143.0 362.5 L1144.0 362.0 L1145.7 359.0"/>
<path d="M1148.3 362.5 L1150.0 363.5 L1151.0 366.0 L1152.0 370.5 L1154.0 373.5 L1155.0 373.0 L1156.0 373.5 L1158.0 373.5 L1159.0 374.5 L1160.0 376.5 L1162.0 378.0 L1163.0 378.5 L1164.0 379.0 L1166.0 384.0 L1167.0 388.0 L1168.0 383.0 L1169.0 384.5 L1171.0 383.5 L1172.0 387.0 L1173.0 391.0 L1175.0 396.0 L1176.0 400.0 L1177.0 406.0 L1179.0 398.5 L1180.0 391.0 L1181.0 384.5 L1183.0 381.5 L1184.0 379.0 L1185.0 381.0 L1187.0 379.5 L1188.0 378.0 L1189.0 375.0 L1191.0 374.0 L1192.0 376.5 L1193.0 372.5 L1195.0 370.0 L1196.0 368.5 L1197.0 367.5 L1199.0 367.5 L1200.0 369.0 L1201.0 367.0 L1203.0 365.5 L1204.0 361.5 L1205.0 359.5 L1206.0 360.5 L1208.0 360.0 L1209.0 360.0 L1210.0 359.5 L1212.0 359.0 L1213.0 359.0 L1214.0 364.0 L1216.0 364.5 L1217.0 366.0 L1218.0 368.5 L1220.0 370.0 L1221.0 370.0"/>
<path d="M1223.7 362.5 L1225.0 362.5 L1226.0 366.0 L1228.0 367.5 L1229.0 369.0 L1230.0 369.0 L1232.0 370.0 L1233.0 371.0 L1234.0 371.0 L1236.0 371.0 L1237.0 367.5 L1238.0 369.0 L1240.0 370.0 L1241.0 369.5 L1242.0 368.5 L1244.0 366.5 L1245.0 363.5 L1246.0 360.5 L1247.0 357.0 L1249.0 356.0 L1250.0 354.5 L1251.0 357.0 L1253.0 356.0 L1254.0 355.5 L1255.0 354.0 L1257.0 353.0 L1258.0 352.5 L1259.0 351.5 L1261.0 353.0 L1262.0 354.5 L1263.0 354.5 L1265.0 359.0 L1266.0 358.5 L1267.0 359.0 L1269.0 360.0 L1270.0 359.5 L1271.0 360.5 L1273.0 361.0 L1274.0 361.0 L1275.0 360.5 L1277.0 361.5 L1278.0 364.0 L1279.0 365.0 L1281.0 365.0 L1282.0 363.5 L1283.0 365.0 L1284.0 365.0 L1286.0 364.0 L1287.0 364.0 L1288.0 365.5 L1290.0 365.0 L1291.0 369.5 L1292.0 371.5 L1294.0 372.5 L1295.0 373.0 L1296.0 373.5 L1297.7 374.0"/>
<path d="M1300.4 376.0 L1302.0 377.0 L1303.0 378.0 L1304.0 380.0 L1306.0 381.0 L1307.0 380.0 L1308.0 376.0 L1310.0 375.0 L1311.0 373.0 L1312.0 376.0 L1314.0 376.0 L1315.0 376.5 L1316.0 373.5 L1318.0 373.0 L1319.0 372.5 L1320.0 378.5 L1322.0 383.5 L1323.0 386.0 L1324.0 387.5 L1325.0 387.5 L1327.0 387.5 L1328.0 386.0 L1329.0 385.0 L1331.0 383.0 L1332.0 387.5 L1333.0 388.0 L1335.0 387.5 L1336.0 388.5 L1337.0 390.0 L1339.0 390.5 L1340.0 390.0 L1341.0 392.0 L1343.0 392.5 L1344.0 392.5 L1345.0 393.0 L1347.0 393.5 L1348.0 393.5 L1349.0 395.5 L1351.0 395.5 L1352.0 397.0 L1353.0 396.5 L1355.0 396.5 L1356.0 396.0 L1357.0 394.5 L1359.0 396.0 L1360.0 396.5 L1361.0 397.0 L1362.0 399.0 L1364.0 397.5 L1365.0 401.5 L1366.0 402.0 L1368.0 402.0 L1369.0 401.5 L1370.0 401.5 L1372.0 401.5 L1373.0 400.5 L1374.0 401.0 L1376.0 397.0 L1377.0 389.0 L1378.0 366.5 L1380.0 352.5 L1381.0 335.0 L1382.0 316.0 L1384.0 337.5 L1385.0 342.0 L1386.0 346.0 L1388.0 347.5 L1389.0 350.0 L1390.0 353.0 L1392.0 347.5 L1393.0 344.5 L1394.0 342.5 L1396.0 339.5 L1397.0 336.0 L1398.0 336.0 L1400.0 335.5 L1401.0 336.5 L1402.0 338.0 L1403.0 341.0 L1405.0 341.5 L1406.0 340.5 L1407.0 338.0 L1409.0 332.5 L1410.0 328.5 L1411.0 326.5 L1413.0 323.5 L1414.0 325.5 L1415.0 328.0 L1417.0 332.0 L1418.0 337.0 L1419.0 342.5 L1421.0 340.5 L1422.0 338.5 L1423.0 342.5 L1425.0 346.0 L1426.0 347.0 L1427.0 347.0 L1429.0 344.5 L1430.0 342.5 L1431.0 339.5 L1433.0 338.0 L1434.0 336.0 L1435.0 334.5 L1437.0 337.5 L1438.0 334.5 L1439.0 334.0 L1440.0 332.0 L1442.0 332.5 L1443.0 332.5 L1444.0 339.0 L1446.0 340.0 L1447.0 340.5 L1448.0 339.5 L1450.0 339.0 L1451.0 338.5 L1452.0 339.0 L1454.0 339.0 L1455.0 339.0 L1456.0 338.5 L1458.0 340.5 L1459.0 349.0 L1460.0 355.0 L1462.0 357.0 L1463.0 356.0 L1464.0 356.0 L1466.0 355.5 L1467.0 359.5 L1468.0 356.5 L1470.0 352.5 L1471.0 352.0 L1472.0 351.0 L1474.0 349.5 L1475.0 347.5 L1476.0 348.0 L1478.0 349.5 L1479.0 348.0 L1480.0 348.5 L1481.0 350.0 L1483.0 345.5 L1484.0 345.5 L1485.0 340.5 L1487.0 338.5 L1488.0 338.0 L1489.0 336.0 L1491.0 335.0 L1492.0 333.0 L1493.0 332.0 L1495.0 332.5 L1496.0 329.0 L1497.0 325.5 L1499.0 326.0 L1500.0 323.5 L1501.0 322.5 L1503.0 322.0 L1504.0 325.0 L1505.0 331.0 L1507.0 328.5 L1508.0 326.5 L1509.0 325.0 L1511.0 323.0 L1512.0 325.5 L1513.0 326.5 L1515.0 327.5 L1516.0 326.0 L1517.0 323.5 L1518.0 321.0 L1520.0 319.5 L1521.0 319.0 L1522.0 322.5 L1524.0 324.5 L1525.0 325.0 L1526.0 327.0 L1528.0 329.5 L1529.0 330.0 L1530.0 330.5 L1532.0 330.5 L1533.0 332.5"/>
</g>
<g fill="#fff" stroke="#8aabde" stroke-width="1.7">
<circle cx="215.0" cy="214.5" r="3.9"/>
<circle cx="252.02" cy="190.0" r="3.9"/>
<circle cx="289.03" cy="256.0" r="3.9"/>
<circle cx="326.05" cy="238.5" r="3.9"/>
<circle cx="363.06" cy="203.0" r="3.9"/>
<circle cx="400.08" cy="192.0" r="3.9"/>
<circle cx="437.1" cy="210.0" r="3.9"/>
<circle cx="474.11" cy="190.5" r="3.9"/>
<circle cx="511.13" cy="182.5" r="3.9"/>
<circle cx="548.14" cy="257.5" r="3.9"/>
<circle cx="585.16" cy="273.0" r="3.9"/>
<circle cx="622.18" cy="316.0" r="3.9"/>
<circle cx="659.19" cy="292.0" r="3.9"/>
<circle cx="696.21" cy="274.0" r="3.9"/>
<circle cx="733.22" cy="296.0" r="3.9"/>
<circle cx="770.24" cy="312.0" r="3.9"/>
<circle cx="807.26" cy="323.0" r="3.9"/>
<circle cx="844.27" cy="325.0" r="3.9"/>
<circle cx="881.29" cy="330.0" r="3.9"/>
<circle cx="918.3" cy="348.0" r="3.9"/>
<circle cx="955.32" cy="359.5" r="3.9"/>
<circle cx="992.34" cy="371.0" r="3.9"/>
<circle cx="1029.35" cy="401.0" r="3.9"/>
<circle cx="1066.37" cy="421.0" r="3.9"/>
<circle cx="1103.38" cy="433.0" r="3.9"/>
<circle cx="1140.4" cy="435.5" r="3.9"/>
<circle cx="1177.42" cy="437.5" r="3.9"/>
<circle cx="1214.43" cy="423.0" r="3.9"/>
<circle cx="1251.45" cy="412.0" r="3.9"/>
<circle cx="1288.46" cy="409.0" r="3.9"/>
<circle cx="1325.48" cy="421.0" r="3.9"/>
<circle cx="1362.5" cy="434.0" r="3.9"/>
<circle cx="1399.51" cy="424.0" r="3.9"/>
<circle cx="1436.53" cy="424.5" r="3.9"/>
<circle cx="1473.54" cy="433.0" r="3.9"/>
<circle cx="1510.56" cy="434.5" r="3.9"/>
<circle cx="1535.5" cy="428.0" r="3.9"/>
</g>
<g fill="#fff" stroke="#ffd99a" stroke-width="1.7">
<circle cx="215.0" cy="214.0" r="3.9"/>
<circle cx="252.02" cy="181.0" r="3.9"/>
<circle cx="289.03" cy="295.0" r="3.9"/>
<circle cx="326.05" cy="292.0" r="3.9"/>
<circle cx="363.06" cy="283.5" r="3.9"/>
<circle cx="400.08" cy="293.0" r="3.9"/>
<circle cx="437.1" cy="297.5" r="3.9"/>
<circle cx="474.11" cy="311.0" r="3.9"/>
<circle cx="511.13" cy="289.0" r="3.9"/>
<circle cx="548.14" cy="330.0" r="3.9"/>
<circle cx="585.16" cy="365.0" r="3.9"/>
<circle cx="622.18" cy="396.0" r="3.9"/>
<circle cx="659.19" cy="362.0" r="3.9"/>
<circle cx="696.21" cy="361.0" r="3.9"/>
<circle cx="733.22" cy="372.0" r="3.9"/>
<circle cx="770.24" cy="387.0" r="3.9"/>
<circle cx="807.26" cy="380.5" r="3.9"/>
<circle cx="844.27" cy="380.0" r="3.9"/>
<circle cx="881.29" cy="375.5" r="3.9"/>
<circle cx="918.3" cy="376.0" r="3.9"/>
<circle cx="955.32" cy="397.0" r="3.9"/>
<circle cx="992.34" cy="395.0" r="3.9"/>
<circle cx="1029.35" cy="401.0" r="3.9"/>
<circle cx="1066.37" cy="409.0" r="3.9"/>
<circle cx="1103.38" cy="414.0" r="3.9"/>
<circle cx="1140.4" cy="429.0" r="3.9"/>
<circle cx="1177.42" cy="460.5" r="3.9"/>
<circle cx="1214.43" cy="427.0" r="3.9"/>
<circle cx="1251.45" cy="418.5" r="3.9"/>
<circle cx="1288.46" cy="422.5" r="3.9"/>
<circle cx="1325.48" cy="440.5" r="3.9"/>
<circle cx="1362.5" cy="451.0" r="3.9"/>
<circle cx="1399.51" cy="404.0" r="3.9"/>
<circle cx="1436.53" cy="406.0" r="3.9"/>
<circle cx="1473.54" cy="412.5" r="3.9"/>
<circle cx="1510.56" cy="393.0" r="3.9"/>
<circle cx="1535.5" cy="403.0" r="3.9"/>
</g>
<g fill="#fff" stroke="#85d5d9" stroke-width="1.7">
<circle cx="215.0" cy="214.5" r="3.9"/>
<circle cx="252.02" cy="164.5" r="3.9"/>
<circle cx="289.03" cy="228.0" r="3.9"/>
<circle cx="326.05" cy="216.0" r="3.9"/>
<circle cx="363.06" cy="210.5" r="3.9"/>
<circle cx="400.08" cy="240.5" r="3.9"/>
<circle cx="437.1" cy="250.5" r="3.9"/>
<circle cx="474.11" cy="247.5" r="3.9"/>
<circle cx="511.13" cy="229.5" r="3.9"/>
<circle cx="548.14" cy="268.0" r="3.9"/>
<circle cx="585.16" cy="309.0" r="3.9"/>
<circle cx="622.18" cy="330.0" r="3.9"/>
<circle cx="659.19" cy="303.0" r="3.9"/>
<circle cx="696.21" cy="304.0" r="3.9"/>
<circle cx="733.22" cy="322.0" r="3.9"/>
<circle cx="770.24" cy="347.0" r="3.9"/>
<circle cx="807.26" cy="333.0" r="3.9"/>
<circle cx="844.27" cy="322.5" r="3.9"/>
<circle cx="881.29" cy="317.0" r="3.9"/>
<circle cx="918.3" cy="314.5" r="3.9"/>
<circle cx="955.32" cy="337.0" r="3.9"/>
<circle cx="992.34" cy="339.0" r="3.9"/>
<circle cx="1029.35" cy="339.0" r="3.9"/>
<circle cx="1066.37" cy="350.5" r="3.9"/>
<circle cx="1103.38" cy="361.0" r="3.9"/>
<circle cx="1140.4" cy="382.5" r="3.9"/>
<circle cx="1177.42" cy="397.5" r="3.9"/>
<circle cx="1214.43" cy="363.0" r="3.9"/>
<circle cx="1251.45" cy="356.0" r="3.9"/>
<circle cx="1288.46" cy="366.0" r="3.9"/>
<circle cx="1325.48" cy="379.0" r="3.9"/>
<circle cx="1362.5" cy="392.5" r="3.9"/>
<circle cx="1399.51" cy="327.0" r="3.9"/>
<circle cx="1436.53" cy="326.0" r="3.9"/>
<circle cx="1473.54" cy="340.5" r="3.9"/>
<circle cx="1510.56" cy="329.0" r="3.9"/>
<circle cx="1535.5" cy="335.5" r="3.9"/>
</g>
<g fill="#fff" stroke="#9e9e9e" stroke-width="1.7">
<circle cx="215.0" cy="214.0" r="3.9"/>
<circle cx="252.02" cy="163.0" r="3.9"/>
<circle cx="289.03" cy="232.5" r="3.9"/>
<circle cx="326.05" cy="206.5" r="3.9"/>
<circle cx="363.06" cy="177.0" r="3.9"/>
<circle cx="400.08" cy="186.0" r="3.9"/>
<circle cx="437.1" cy="206.5" r="3.9"/>
<circle cx="474.11" cy="200.5" r="3.9"/>
<circle cx="511.13" cy="186.0" r="3.9"/>
<circle cx="548.14" cy="242.0" r="3.9"/>
<circle cx="585.16" cy="281.0" r="3.9"/>
<circle cx="622.18" cy="316.0" r="3.9"/>
<circle cx="659.19" cy="272.5" r="3.9"/>
<circle cx="696.21" cy="262.0" r="3.9"/>
<circle cx="733.22" cy="280.5" r="3.9"/>
<circle cx="770.24" cy="303.0" r="3.9"/>
<circle cx="807.26" cy="296.0" r="3.9"/>
<circle cx="844.27" cy="288.0" r="3.9"/>
<circle cx="881.29" cy="287.0" r="3.9"/>
<circle cx="918.3" cy="290.5" r="3.9"/>
<circle cx="955.32" cy="317.5" r="3.9"/>
<circle cx="992.34" cy="320.5" r="3.9"/>
<circle cx="1029.35" cy="329.0" r="3.9"/>
<circle cx="1066.37" cy="339.5" r="3.9"/>
<circle cx="1103.38" cy="344.0" r="3.9"/>
<circle cx="1140.4" cy="365.5" r="3.9"/>
<circle cx="1177.42" cy="406.0" r="3.9"/>
<circle cx="1214.43" cy="364.0" r="3.9"/>
<circle cx="1251.45" cy="357.0" r="3.9"/>
<circle cx="1288.46" cy="365.5" r="3.9"/>
<circle cx="1325.48" cy="387.5" r="3.9"/>
<circle cx="1362.5" cy="399.0" r="3.9"/>
<circle cx="1399.51" cy="335.5" r="3.9"/>
<circle cx="1436.53" cy="337.5" r="3.9"/>
<circle cx="1473.54" cy="349.5" r="3.9"/>
<circle cx="1510.56" cy="323.0" r="3.9"/>
</g>
<path d="M412 738H462" stroke="#8aabde" stroke-width="1.85"/>
<circle cx="437" cy="737.7" r="11" fill="#fff" stroke="#8aabde" stroke-width="2"/>
<text x="471.8" y="744.6" font-size="24" fill="#333" stroke="#fff" stroke-width="0.15">中邮核心成长混合</text>
<path d="M685 738H735" stroke="#ffd99a" stroke-width="1.85"/>
<circle cx="710" cy="737.7" r="11" fill="#fff" stroke="#ffd99a" stroke-width="2"/>
<text x="744.3" y="744.6" font-size="24" fill="#333" stroke="#fff" stroke-width="0.15">同类平均</text>
<path d="M862 738H912" stroke="#85d5d9" stroke-width="1.85"/>
<circle cx="887" cy="737.7" r="11" fill="#fff" stroke="#85d5d9" stroke-width="2"/>
<text x="921" y="744.6" font-size="24" fill="#333" stroke="#fff" stroke-width="0.15">沪深<tspan font-size="25.5" dx="0.5">300</tspan></text>
<path d="M1033 738H1083" stroke="#9e9e9e" stroke-width="1.85"/>
<circle cx="1058" cy="737.7" r="11" fill="#fff" stroke="#9e9e9e" stroke-width="2"/>
<text x="1092.8" y="744.6" font-size="24" fill="#333" stroke="#fff" stroke-width="0.15">偏股基金</text>
<text x="800" y="796.8" text-anchor="middle" font-size="18" fill="#c59b36">制图数据来自恒生聚源数据库</text>
</svg></body></html>
